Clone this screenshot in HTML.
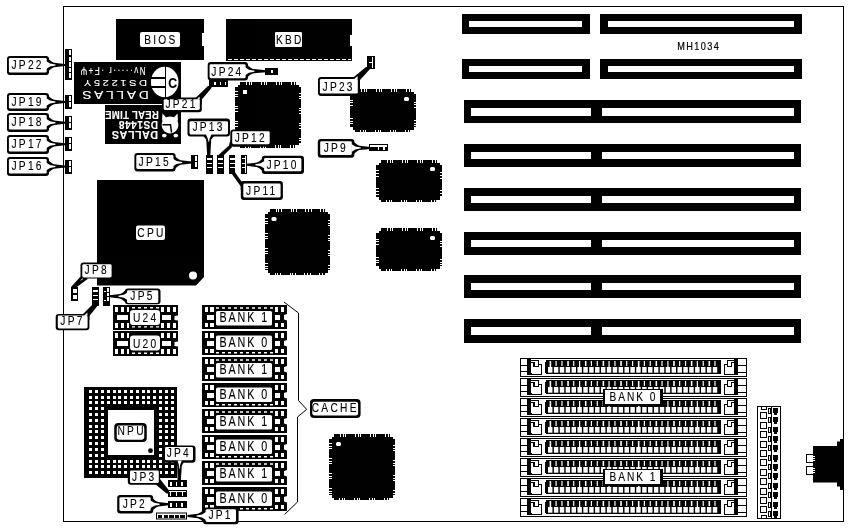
<!DOCTYPE html>
<html><head><meta charset="utf-8"><title>MH1034</title>
<style>
html,body{margin:0;padding:0;background:#fff;}
svg{display:block;font-family:"Liberation Sans",sans-serif;}
.c{shape-rendering:crispEdges;}
svg{will-change:transform;opacity:0.9999;}
</style></head>
<body>
<svg width="849" height="532" viewBox="0 0 849 532">
<rect x="0" y="0" width="849" height="532" fill="#fff"/>
<rect x="63.5" y="6.5" width="780" height="515" fill="#fff" stroke="#000" stroke-width="1"/>
<rect x="462" y="14" width="128" height="20" fill="#000" class="c"/>
<rect x="469" y="21" width="113" height="6" fill="#fff" class="c"/>
<rect x="600" y="14" width="202" height="20" fill="#000" class="c"/>
<rect x="608" y="21" width="186" height="6" fill="#fff" class="c"/>
<rect x="462" y="59" width="128" height="20" fill="#000" class="c"/>
<rect x="469" y="66" width="113" height="6" fill="#fff" class="c"/>
<rect x="600" y="59" width="202" height="20" fill="#000" class="c"/>
<rect x="608" y="66" width="186" height="6" fill="#fff" class="c"/>
<rect x="464" y="100" width="337" height="23" fill="#000" class="c"/>
<rect x="471" y="108" width="120" height="8" fill="#fff" class="c"/>
<rect x="602" y="108" width="192" height="8" fill="#fff" class="c"/>
<rect x="464" y="144" width="337" height="23" fill="#000" class="c"/>
<rect x="471" y="152" width="120" height="7" fill="#fff" class="c"/>
<rect x="602" y="152" width="192" height="7" fill="#fff" class="c"/>
<rect x="464" y="188" width="337" height="23" fill="#000" class="c"/>
<rect x="471" y="196" width="120" height="7" fill="#fff" class="c"/>
<rect x="602" y="196" width="192" height="7" fill="#fff" class="c"/>
<rect x="464" y="232" width="337" height="23" fill="#000" class="c"/>
<rect x="471" y="240" width="120" height="7" fill="#fff" class="c"/>
<rect x="602" y="240" width="192" height="7" fill="#fff" class="c"/>
<rect x="464" y="275" width="337" height="23" fill="#000" class="c"/>
<rect x="471" y="283" width="120" height="7" fill="#fff" class="c"/>
<rect x="602" y="283" width="192" height="7" fill="#fff" class="c"/>
<rect x="464" y="319" width="337" height="24" fill="#000" class="c"/>
<rect x="471" y="327" width="120" height="8" fill="#fff" class="c"/>
<rect x="602" y="327" width="192" height="8" fill="#fff" class="c"/>
<text transform="translate(698,50.3) scale(0.92,1)" x="0.75" y="0" text-anchor="middle" font-size="10" letter-spacing="1.5" fill="#000" stroke="#000" stroke-width="0.2" font-weight="normal">MH1034</text>
<polygon points="116,19 204,19 204,33 202,33 202,46 204,46 204,60 116,60" fill="#000" />
<rect x="140" y="32" width="40" height="15" rx="2" fill="#fff"/>
<text transform="translate(159.7,43.7) scale(0.75,1)" x="1.5" y="0" text-anchor="middle" font-size="13.6" letter-spacing="3.0" fill="#000" stroke="#000" stroke-width="0.12" font-weight="normal">BIOS</text>
<polygon points="226,19 352,19 352,35 350,35 350,46 352,46 352,61 226,61" fill="#000" />
<line x1="228" y1="59.5" x2="351" y2="59.5" stroke="#fff" stroke-width="1" stroke-dasharray="4,2"/>
<rect x="275" y="32" width="27" height="15" rx="1" fill="#fff"/>
<text transform="translate(288.7,43.7) scale(0.75,1)" x="1.5" y="0" text-anchor="middle" font-size="13.6" letter-spacing="3.0" fill="#000" stroke="#000" stroke-width="0.12" font-weight="normal">KBD</text>
<rect x="74" y="62" width="107" height="41.5" fill="#000" class="c"/>
<text transform="translate(115.5,90.6) rotate(180) scale(1.22,1)" x="1.15" y="0" text-anchor="middle" font-size="11.2" letter-spacing="2.3" fill="#fff" stroke="#fff" stroke-width="0.12" font-weight="normal">DALLAS</text>
<text transform="translate(115.5,80) rotate(180) scale(1.12,1)" x="1.2" y="0" text-anchor="middle" font-size="9.8" letter-spacing="2.4" fill="#fff" stroke="#fff" stroke-width="0.12" font-weight="normal">DS1225Y</text>
<text transform="translate(113,67.3) rotate(180) scale(0.8,1)" x="0.95" y="0" text-anchor="middle" font-size="10" letter-spacing="1.9" fill="#fff" stroke="#fff" stroke-width="0.12" font-weight="normal">Nv·····r ·F+Ψ</text>
<ellipse cx="164.7" cy="82" rx="13.8" ry="15.2" fill="#fff"/>
<rect x="150" y="77" width="15" height="1.6" fill="#000" class="c"/>
<rect x="150" y="85.8" width="15" height="1.8" fill="#000" class="c"/>
<rect x="164.5" y="66" width="1.7" height="32" fill="#000" class="c"/>
<text transform="translate(172.6,88) scale(0.82,1)" x="0.0" y="0" text-anchor="middle" font-size="15" letter-spacing="0" fill="#000" stroke="#000" stroke-width="0.12" font-weight="bold">C</text>
<rect x="105" y="105" width="76" height="38.7" fill="#000" class="c"/>
<text transform="translate(135,131.2) rotate(180) scale(0.93,1)" x="0.3" y="0" text-anchor="middle" font-size="11.5" letter-spacing="0.6" fill="#fff" stroke="#fff" stroke-width="0.12" font-weight="bold">DALLAS</text>
<text transform="translate(138.5,120.5) rotate(180) scale(0.9,1)" x="0.3" y="0" text-anchor="middle" font-size="11.2" letter-spacing="0.6" fill="#fff" stroke="#fff" stroke-width="0.12" font-weight="bold">DS1448</text>
<text transform="translate(132,110.5) rotate(180) scale(0.92,1)" x="0.15" y="0" text-anchor="middle" font-size="10.4" letter-spacing="0.3" fill="#fff" stroke="#fff" stroke-width="0.12" font-weight="bold">REAL TIME</text>
<circle cx="170" cy="125" r="8.4" fill="#fff"/>
<polygon points="162.5,113.5 167,118.5 162,121" fill="#fff" />
<polygon points="177.5,113.5 173,118.5 178,121" fill="#fff" />
<ellipse cx="164.3" cy="135.6" rx="2.3" ry="1.9" fill="#fff"/>
<ellipse cx="175.8" cy="135.6" rx="2.3" ry="1.9" fill="#fff"/>
<polyline points="162.5,124.8 170.5,124.8 171.5,132.5" fill="none" stroke="#000" stroke-width="1.5" />
<polygon points="240,82 296,82 296,84.5 298.5,84.5 298.5,87 301,87 301,142.5 298.5,142.5 298.5,145.0 296,145.0 296,147.5 240,147.5 240,145.0 237.5,145.0 237.5,142.5 235,142.5 235,87 237.5,87 237.5,84.5 240,84.5" fill="#000" class="c"/>
<rect x="246" y="82" width="1" height="2.5" fill="#fff" class="c"/>
<rect x="245" y="145" width="1" height="2.5" fill="#fff" class="c"/>
<rect x="248.5" y="82" width="1" height="2.5" fill="#fff" class="c"/>
<rect x="247.5" y="145" width="1" height="2.5" fill="#fff" class="c"/>
<rect x="251" y="82" width="1" height="2.5" fill="#fff" class="c"/>
<rect x="250" y="145" width="1" height="2.5" fill="#fff" class="c"/>
<rect x="261" y="82" width="1" height="2.5" fill="#fff" class="c"/>
<rect x="260" y="145" width="1" height="2.5" fill="#fff" class="c"/>
<rect x="263.5" y="82" width="1" height="2.5" fill="#fff" class="c"/>
<rect x="262.5" y="145" width="1" height="2.5" fill="#fff" class="c"/>
<rect x="266" y="82" width="1" height="2.5" fill="#fff" class="c"/>
<rect x="265" y="145" width="1" height="2.5" fill="#fff" class="c"/>
<rect x="276" y="82" width="1" height="2.5" fill="#fff" class="c"/>
<rect x="275" y="145" width="1" height="2.5" fill="#fff" class="c"/>
<rect x="278.5" y="82" width="1" height="2.5" fill="#fff" class="c"/>
<rect x="277.5" y="145" width="1" height="2.5" fill="#fff" class="c"/>
<rect x="281" y="82" width="1" height="2.5" fill="#fff" class="c"/>
<rect x="280" y="145" width="1" height="2.5" fill="#fff" class="c"/>
<rect x="291" y="82" width="1" height="2.5" fill="#fff" class="c"/>
<rect x="290" y="145" width="1" height="2.5" fill="#fff" class="c"/>
<rect x="293.5" y="82" width="1" height="2.5" fill="#fff" class="c"/>
<rect x="292.5" y="145" width="1" height="2.5" fill="#fff" class="c"/>
<rect x="296" y="82" width="1" height="2.5" fill="#fff" class="c"/>
<rect x="295" y="145" width="1" height="2.5" fill="#fff" class="c"/>
<rect x="235" y="90.5" width="2.5" height="1" fill="#fff" class="c"/>
<rect x="298.5" y="92.5" width="2.5" height="1" fill="#fff" class="c"/>
<rect x="235" y="93.5" width="2.5" height="1" fill="#fff" class="c"/>
<rect x="298.5" y="95.5" width="2.5" height="1" fill="#fff" class="c"/>
<rect x="235" y="96" width="2.5" height="1" fill="#fff" class="c"/>
<rect x="298.5" y="98" width="2.5" height="1" fill="#fff" class="c"/>
<rect x="235" y="105.5" width="2.5" height="1" fill="#fff" class="c"/>
<rect x="298.5" y="107.5" width="2.5" height="1" fill="#fff" class="c"/>
<rect x="235" y="108" width="2.5" height="1" fill="#fff" class="c"/>
<rect x="298.5" y="110" width="2.5" height="1" fill="#fff" class="c"/>
<rect x="235" y="111" width="2.5" height="1" fill="#fff" class="c"/>
<rect x="298.5" y="113" width="2.5" height="1" fill="#fff" class="c"/>
<rect x="235" y="120.5" width="2.5" height="1" fill="#fff" class="c"/>
<rect x="298.5" y="122.5" width="2.5" height="1" fill="#fff" class="c"/>
<rect x="235" y="123" width="2.5" height="1" fill="#fff" class="c"/>
<rect x="298.5" y="125" width="2.5" height="1" fill="#fff" class="c"/>
<rect x="235" y="125.5" width="2.5" height="1" fill="#fff" class="c"/>
<rect x="298.5" y="127.5" width="2.5" height="1" fill="#fff" class="c"/>
<rect x="235" y="135.5" width="2.5" height="1" fill="#fff" class="c"/>
<rect x="298.5" y="137.5" width="2.5" height="1" fill="#fff" class="c"/>
<rect x="235" y="138" width="2.5" height="1" fill="#fff" class="c"/>
<rect x="298.5" y="140" width="2.5" height="1" fill="#fff" class="c"/>
<rect x="243" y="90" width="4" height="4" fill="#fff" class="c"/>
<polygon points="355,89 411,89 411,91.5 413.5,91.5 413.5,94 416,94 416,127 413.5,127 413.5,129.5 411,129.5 411,132 355,132 355,129.5 352.5,129.5 352.5,127 350,127 350,94 352.5,94 352.5,91.5 355,91.5" fill="#000" class="c"/>
<rect x="361" y="89" width="1" height="2.5" fill="#fff" class="c"/>
<rect x="360" y="129.5" width="1" height="2.5" fill="#fff" class="c"/>
<rect x="363.5" y="89" width="1" height="2.5" fill="#fff" class="c"/>
<rect x="362.5" y="129.5" width="1" height="2.5" fill="#fff" class="c"/>
<rect x="366" y="89" width="1" height="2.5" fill="#fff" class="c"/>
<rect x="365" y="129.5" width="1" height="2.5" fill="#fff" class="c"/>
<rect x="376" y="89" width="1" height="2.5" fill="#fff" class="c"/>
<rect x="375" y="129.5" width="1" height="2.5" fill="#fff" class="c"/>
<rect x="378.5" y="89" width="1" height="2.5" fill="#fff" class="c"/>
<rect x="377.5" y="129.5" width="1" height="2.5" fill="#fff" class="c"/>
<rect x="381" y="89" width="1" height="2.5" fill="#fff" class="c"/>
<rect x="380" y="129.5" width="1" height="2.5" fill="#fff" class="c"/>
<rect x="391" y="89" width="1" height="2.5" fill="#fff" class="c"/>
<rect x="390" y="129.5" width="1" height="2.5" fill="#fff" class="c"/>
<rect x="393.5" y="89" width="1" height="2.5" fill="#fff" class="c"/>
<rect x="392.5" y="129.5" width="1" height="2.5" fill="#fff" class="c"/>
<rect x="396" y="89" width="1" height="2.5" fill="#fff" class="c"/>
<rect x="395" y="129.5" width="1" height="2.5" fill="#fff" class="c"/>
<rect x="406" y="89" width="1" height="2.5" fill="#fff" class="c"/>
<rect x="405" y="129.5" width="1" height="2.5" fill="#fff" class="c"/>
<rect x="408.5" y="89" width="1" height="2.5" fill="#fff" class="c"/>
<rect x="407.5" y="129.5" width="1" height="2.5" fill="#fff" class="c"/>
<rect x="411" y="89" width="1" height="2.5" fill="#fff" class="c"/>
<rect x="410" y="129.5" width="1" height="2.5" fill="#fff" class="c"/>
<rect x="350" y="99.5" width="2.5" height="1" fill="#fff" class="c"/>
<rect x="413.5" y="101.5" width="2.5" height="1" fill="#fff" class="c"/>
<rect x="350" y="102" width="2.5" height="1" fill="#fff" class="c"/>
<rect x="413.5" y="104" width="2.5" height="1" fill="#fff" class="c"/>
<rect x="350" y="104.5" width="2.5" height="1" fill="#fff" class="c"/>
<rect x="413.5" y="106.5" width="2.5" height="1" fill="#fff" class="c"/>
<rect x="350" y="118" width="2.5" height="1" fill="#fff" class="c"/>
<rect x="413.5" y="120" width="2.5" height="1" fill="#fff" class="c"/>
<rect x="350" y="120.5" width="2.5" height="1" fill="#fff" class="c"/>
<rect x="413.5" y="122.5" width="2.5" height="1" fill="#fff" class="c"/>
<rect x="350" y="123" width="2.5" height="1" fill="#fff" class="c"/>
<rect x="413.5" y="125" width="2.5" height="1" fill="#fff" class="c"/>
<rect x="404" y="97" width="5" height="4" rx="1.5" fill="#fff"/>
<polygon points="381,160 437,160 437,162.5 439.5,162.5 439.5,165 442,165 442,197 439.5,197 439.5,199.5 437,199.5 437,202 381,202 381,199.5 378.5,199.5 378.5,197 376,197 376,165 378.5,165 378.5,162.5 381,162.5" fill="#000" class="c"/>
<rect x="387" y="160" width="1" height="2.5" fill="#fff" class="c"/>
<rect x="386" y="199.5" width="1" height="2.5" fill="#fff" class="c"/>
<rect x="389.5" y="160" width="1" height="2.5" fill="#fff" class="c"/>
<rect x="388.5" y="199.5" width="1" height="2.5" fill="#fff" class="c"/>
<rect x="392" y="160" width="1" height="2.5" fill="#fff" class="c"/>
<rect x="391" y="199.5" width="1" height="2.5" fill="#fff" class="c"/>
<rect x="402" y="160" width="1" height="2.5" fill="#fff" class="c"/>
<rect x="401" y="199.5" width="1" height="2.5" fill="#fff" class="c"/>
<rect x="404.5" y="160" width="1" height="2.5" fill="#fff" class="c"/>
<rect x="403.5" y="199.5" width="1" height="2.5" fill="#fff" class="c"/>
<rect x="407" y="160" width="1" height="2.5" fill="#fff" class="c"/>
<rect x="406" y="199.5" width="1" height="2.5" fill="#fff" class="c"/>
<rect x="417" y="160" width="1" height="2.5" fill="#fff" class="c"/>
<rect x="416" y="199.5" width="1" height="2.5" fill="#fff" class="c"/>
<rect x="419.5" y="160" width="1" height="2.5" fill="#fff" class="c"/>
<rect x="418.5" y="199.5" width="1" height="2.5" fill="#fff" class="c"/>
<rect x="422" y="160" width="1" height="2.5" fill="#fff" class="c"/>
<rect x="421" y="199.5" width="1" height="2.5" fill="#fff" class="c"/>
<rect x="432" y="160" width="1" height="2.5" fill="#fff" class="c"/>
<rect x="431" y="199.5" width="1" height="2.5" fill="#fff" class="c"/>
<rect x="434.5" y="160" width="1" height="2.5" fill="#fff" class="c"/>
<rect x="433.5" y="199.5" width="1" height="2.5" fill="#fff" class="c"/>
<rect x="437" y="160" width="1" height="2.5" fill="#fff" class="c"/>
<rect x="436" y="199.5" width="1" height="2.5" fill="#fff" class="c"/>
<rect x="376" y="170" width="2.5" height="1" fill="#fff" class="c"/>
<rect x="439.5" y="172" width="2.5" height="1" fill="#fff" class="c"/>
<rect x="376" y="172.5" width="2.5" height="1" fill="#fff" class="c"/>
<rect x="439.5" y="174.5" width="2.5" height="1" fill="#fff" class="c"/>
<rect x="376" y="175.5" width="2.5" height="1" fill="#fff" class="c"/>
<rect x="439.5" y="177.5" width="2.5" height="1" fill="#fff" class="c"/>
<rect x="376" y="188" width="2.5" height="1" fill="#fff" class="c"/>
<rect x="439.5" y="190" width="2.5" height="1" fill="#fff" class="c"/>
<rect x="376" y="190.5" width="2.5" height="1" fill="#fff" class="c"/>
<rect x="439.5" y="192.5" width="2.5" height="1" fill="#fff" class="c"/>
<rect x="376" y="193.5" width="2.5" height="1" fill="#fff" class="c"/>
<rect x="439.5" y="195.5" width="2.5" height="1" fill="#fff" class="c"/>
<rect x="430" y="167" width="5" height="4" rx="1.5" fill="#fff"/>
<polygon points="381,228 437,228 437,230.5 439.5,230.5 439.5,233 442,233 442,266 439.5,266 439.5,268.5 437,268.5 437,271 381,271 381,268.5 378.5,268.5 378.5,266 376,266 376,233 378.5,233 378.5,230.5 381,230.5" fill="#000" class="c"/>
<rect x="387" y="228" width="1" height="2.5" fill="#fff" class="c"/>
<rect x="386" y="268.5" width="1" height="2.5" fill="#fff" class="c"/>
<rect x="389.5" y="228" width="1" height="2.5" fill="#fff" class="c"/>
<rect x="388.5" y="268.5" width="1" height="2.5" fill="#fff" class="c"/>
<rect x="392" y="228" width="1" height="2.5" fill="#fff" class="c"/>
<rect x="391" y="268.5" width="1" height="2.5" fill="#fff" class="c"/>
<rect x="402" y="228" width="1" height="2.5" fill="#fff" class="c"/>
<rect x="401" y="268.5" width="1" height="2.5" fill="#fff" class="c"/>
<rect x="404.5" y="228" width="1" height="2.5" fill="#fff" class="c"/>
<rect x="403.5" y="268.5" width="1" height="2.5" fill="#fff" class="c"/>
<rect x="407" y="228" width="1" height="2.5" fill="#fff" class="c"/>
<rect x="406" y="268.5" width="1" height="2.5" fill="#fff" class="c"/>
<rect x="417" y="228" width="1" height="2.5" fill="#fff" class="c"/>
<rect x="416" y="268.5" width="1" height="2.5" fill="#fff" class="c"/>
<rect x="419.5" y="228" width="1" height="2.5" fill="#fff" class="c"/>
<rect x="418.5" y="268.5" width="1" height="2.5" fill="#fff" class="c"/>
<rect x="422" y="228" width="1" height="2.5" fill="#fff" class="c"/>
<rect x="421" y="268.5" width="1" height="2.5" fill="#fff" class="c"/>
<rect x="432" y="228" width="1" height="2.5" fill="#fff" class="c"/>
<rect x="431" y="268.5" width="1" height="2.5" fill="#fff" class="c"/>
<rect x="434.5" y="228" width="1" height="2.5" fill="#fff" class="c"/>
<rect x="433.5" y="268.5" width="1" height="2.5" fill="#fff" class="c"/>
<rect x="437" y="228" width="1" height="2.5" fill="#fff" class="c"/>
<rect x="436" y="268.5" width="1" height="2.5" fill="#fff" class="c"/>
<rect x="376" y="238.5" width="2.5" height="1" fill="#fff" class="c"/>
<rect x="439.5" y="240.5" width="2.5" height="1" fill="#fff" class="c"/>
<rect x="376" y="241" width="2.5" height="1" fill="#fff" class="c"/>
<rect x="439.5" y="243" width="2.5" height="1" fill="#fff" class="c"/>
<rect x="376" y="243.5" width="2.5" height="1" fill="#fff" class="c"/>
<rect x="439.5" y="245.5" width="2.5" height="1" fill="#fff" class="c"/>
<rect x="376" y="257" width="2.5" height="1" fill="#fff" class="c"/>
<rect x="439.5" y="259" width="2.5" height="1" fill="#fff" class="c"/>
<rect x="376" y="259.5" width="2.5" height="1" fill="#fff" class="c"/>
<rect x="439.5" y="261.5" width="2.5" height="1" fill="#fff" class="c"/>
<rect x="376" y="262" width="2.5" height="1" fill="#fff" class="c"/>
<rect x="439.5" y="264" width="2.5" height="1" fill="#fff" class="c"/>
<rect x="430" y="236" width="5" height="4" rx="1.5" fill="#fff"/>
<polygon points="270,209 325,209 325,211.5 327.5,211.5 327.5,214 330,214 330,270 327.5,270 327.5,272.5 325,272.5 325,275 270,275 270,272.5 267.5,272.5 267.5,270 265,270 265,214 267.5,214 267.5,211.5 270,211.5" fill="#000" class="c"/>
<rect x="275.5" y="209" width="1" height="2.5" fill="#fff" class="c"/>
<rect x="274.5" y="272.5" width="1" height="2.5" fill="#fff" class="c"/>
<rect x="278" y="209" width="1" height="2.5" fill="#fff" class="c"/>
<rect x="277" y="272.5" width="1" height="2.5" fill="#fff" class="c"/>
<rect x="281" y="209" width="1" height="2.5" fill="#fff" class="c"/>
<rect x="280" y="272.5" width="1" height="2.5" fill="#fff" class="c"/>
<rect x="290.5" y="209" width="1" height="2.5" fill="#fff" class="c"/>
<rect x="289.5" y="272.5" width="1" height="2.5" fill="#fff" class="c"/>
<rect x="293" y="209" width="1" height="2.5" fill="#fff" class="c"/>
<rect x="292" y="272.5" width="1" height="2.5" fill="#fff" class="c"/>
<rect x="295.5" y="209" width="1" height="2.5" fill="#fff" class="c"/>
<rect x="294.5" y="272.5" width="1" height="2.5" fill="#fff" class="c"/>
<rect x="305" y="209" width="1" height="2.5" fill="#fff" class="c"/>
<rect x="304" y="272.5" width="1" height="2.5" fill="#fff" class="c"/>
<rect x="307.5" y="209" width="1" height="2.5" fill="#fff" class="c"/>
<rect x="306.5" y="272.5" width="1" height="2.5" fill="#fff" class="c"/>
<rect x="310.5" y="209" width="1" height="2.5" fill="#fff" class="c"/>
<rect x="309.5" y="272.5" width="1" height="2.5" fill="#fff" class="c"/>
<rect x="320" y="209" width="1" height="2.5" fill="#fff" class="c"/>
<rect x="319" y="272.5" width="1" height="2.5" fill="#fff" class="c"/>
<rect x="322.5" y="209" width="1" height="2.5" fill="#fff" class="c"/>
<rect x="321.5" y="272.5" width="1" height="2.5" fill="#fff" class="c"/>
<rect x="265" y="218" width="2.5" height="1" fill="#fff" class="c"/>
<rect x="327.5" y="220" width="2.5" height="1" fill="#fff" class="c"/>
<rect x="265" y="220.5" width="2.5" height="1" fill="#fff" class="c"/>
<rect x="327.5" y="222.5" width="2.5" height="1" fill="#fff" class="c"/>
<rect x="265" y="223" width="2.5" height="1" fill="#fff" class="c"/>
<rect x="327.5" y="225" width="2.5" height="1" fill="#fff" class="c"/>
<rect x="265" y="233" width="2.5" height="1" fill="#fff" class="c"/>
<rect x="327.5" y="235" width="2.5" height="1" fill="#fff" class="c"/>
<rect x="265" y="235.5" width="2.5" height="1" fill="#fff" class="c"/>
<rect x="327.5" y="237.5" width="2.5" height="1" fill="#fff" class="c"/>
<rect x="265" y="238" width="2.5" height="1" fill="#fff" class="c"/>
<rect x="327.5" y="240" width="2.5" height="1" fill="#fff" class="c"/>
<rect x="265" y="248" width="2.5" height="1" fill="#fff" class="c"/>
<rect x="327.5" y="250" width="2.5" height="1" fill="#fff" class="c"/>
<rect x="265" y="250.5" width="2.5" height="1" fill="#fff" class="c"/>
<rect x="327.5" y="252.5" width="2.5" height="1" fill="#fff" class="c"/>
<rect x="265" y="253" width="2.5" height="1" fill="#fff" class="c"/>
<rect x="327.5" y="255" width="2.5" height="1" fill="#fff" class="c"/>
<rect x="265" y="263" width="2.5" height="1" fill="#fff" class="c"/>
<rect x="327.5" y="265" width="2.5" height="1" fill="#fff" class="c"/>
<rect x="265" y="265.5" width="2.5" height="1" fill="#fff" class="c"/>
<rect x="327.5" y="267.5" width="2.5" height="1" fill="#fff" class="c"/>
<rect x="265" y="268" width="2.5" height="1" fill="#fff" class="c"/>
<rect x="327.5" y="270" width="2.5" height="1" fill="#fff" class="c"/>
<rect x="271.5" y="217" width="5" height="4" rx="1.5" fill="#fff"/>
<polygon points="334,434 390,434 390,436.5 392.5,436.5 392.5,439 395,439 395,495 392.5,495 392.5,497.5 390,497.5 390,500 334,500 334,497.5 331.5,497.5 331.5,495 329,495 329,439 331.5,439 331.5,436.5 334,436.5" fill="#000" class="c"/>
<rect x="340" y="434" width="1" height="2.5" fill="#fff" class="c"/>
<rect x="339" y="497.5" width="1" height="2.5" fill="#fff" class="c"/>
<rect x="342.5" y="434" width="1" height="2.5" fill="#fff" class="c"/>
<rect x="341.5" y="497.5" width="1" height="2.5" fill="#fff" class="c"/>
<rect x="345" y="434" width="1" height="2.5" fill="#fff" class="c"/>
<rect x="344" y="497.5" width="1" height="2.5" fill="#fff" class="c"/>
<rect x="355" y="434" width="1" height="2.5" fill="#fff" class="c"/>
<rect x="354" y="497.5" width="1" height="2.5" fill="#fff" class="c"/>
<rect x="357.5" y="434" width="1" height="2.5" fill="#fff" class="c"/>
<rect x="356.5" y="497.5" width="1" height="2.5" fill="#fff" class="c"/>
<rect x="360" y="434" width="1" height="2.5" fill="#fff" class="c"/>
<rect x="359" y="497.5" width="1" height="2.5" fill="#fff" class="c"/>
<rect x="370" y="434" width="1" height="2.5" fill="#fff" class="c"/>
<rect x="369" y="497.5" width="1" height="2.5" fill="#fff" class="c"/>
<rect x="372.5" y="434" width="1" height="2.5" fill="#fff" class="c"/>
<rect x="371.5" y="497.5" width="1" height="2.5" fill="#fff" class="c"/>
<rect x="375" y="434" width="1" height="2.5" fill="#fff" class="c"/>
<rect x="374" y="497.5" width="1" height="2.5" fill="#fff" class="c"/>
<rect x="385" y="434" width="1" height="2.5" fill="#fff" class="c"/>
<rect x="384" y="497.5" width="1" height="2.5" fill="#fff" class="c"/>
<rect x="387.5" y="434" width="1" height="2.5" fill="#fff" class="c"/>
<rect x="386.5" y="497.5" width="1" height="2.5" fill="#fff" class="c"/>
<rect x="390" y="434" width="1" height="2.5" fill="#fff" class="c"/>
<rect x="389" y="497.5" width="1" height="2.5" fill="#fff" class="c"/>
<rect x="329" y="443" width="2.5" height="1" fill="#fff" class="c"/>
<rect x="392.5" y="445" width="2.5" height="1" fill="#fff" class="c"/>
<rect x="329" y="445.5" width="2.5" height="1" fill="#fff" class="c"/>
<rect x="392.5" y="447.5" width="2.5" height="1" fill="#fff" class="c"/>
<rect x="329" y="448" width="2.5" height="1" fill="#fff" class="c"/>
<rect x="392.5" y="450" width="2.5" height="1" fill="#fff" class="c"/>
<rect x="329" y="458" width="2.5" height="1" fill="#fff" class="c"/>
<rect x="392.5" y="460" width="2.5" height="1" fill="#fff" class="c"/>
<rect x="329" y="460.5" width="2.5" height="1" fill="#fff" class="c"/>
<rect x="392.5" y="462.5" width="2.5" height="1" fill="#fff" class="c"/>
<rect x="329" y="463" width="2.5" height="1" fill="#fff" class="c"/>
<rect x="392.5" y="465" width="2.5" height="1" fill="#fff" class="c"/>
<rect x="329" y="473" width="2.5" height="1" fill="#fff" class="c"/>
<rect x="392.5" y="475" width="2.5" height="1" fill="#fff" class="c"/>
<rect x="329" y="475.5" width="2.5" height="1" fill="#fff" class="c"/>
<rect x="392.5" y="477.5" width="2.5" height="1" fill="#fff" class="c"/>
<rect x="329" y="478" width="2.5" height="1" fill="#fff" class="c"/>
<rect x="392.5" y="480" width="2.5" height="1" fill="#fff" class="c"/>
<rect x="329" y="488" width="2.5" height="1" fill="#fff" class="c"/>
<rect x="392.5" y="490" width="2.5" height="1" fill="#fff" class="c"/>
<rect x="329" y="490.5" width="2.5" height="1" fill="#fff" class="c"/>
<rect x="392.5" y="492.5" width="2.5" height="1" fill="#fff" class="c"/>
<rect x="329" y="493" width="2.5" height="1" fill="#fff" class="c"/>
<rect x="392.5" y="495" width="2.5" height="1" fill="#fff" class="c"/>
<rect x="336" y="442" width="5" height="4" rx="1.5" fill="#fff"/>
<polygon points="97,180 204,180 204,277 196,285.5 97,285.5" fill="#000" />
<circle cx="193" cy="275.5" r="4" fill="#fff"/>
<rect x="136" y="225.5" width="29" height="14.5" rx="2" fill="#fff"/>
<text transform="translate(150.3,237) scale(0.75,1)" x="1.5" y="0" text-anchor="middle" font-size="13.6" letter-spacing="3.0" fill="#000" stroke="#000" stroke-width="0.12" font-weight="normal">CPU</text>
<rect x="113" y="305" width="65" height="24.7" fill="#000" class="c"/>
<rect x="115" y="307" width="3" height="5" fill="#fff" class="c"/>
<rect x="115" y="322.7" width="3" height="5" fill="#fff" class="c"/>
<rect x="121" y="307" width="3" height="5" fill="#fff" class="c"/>
<rect x="121" y="322.7" width="3" height="5" fill="#fff" class="c"/>
<rect x="127" y="307" width="1.5" height="5" fill="#fff" class="c"/>
<rect x="127" y="322.7" width="1.5" height="5" fill="#fff" class="c"/>
<rect x="117" y="315" width="11" height="5" fill="#fff" class="c"/>
<rect x="161" y="307" width="3" height="5" fill="#fff" class="c"/>
<rect x="161" y="322.7" width="3" height="5" fill="#fff" class="c"/>
<rect x="167" y="307" width="3" height="5" fill="#fff" class="c"/>
<rect x="167" y="322.7" width="3" height="5" fill="#fff" class="c"/>
<rect x="173" y="307" width="3" height="5" fill="#fff" class="c"/>
<rect x="173" y="322.7" width="3" height="5" fill="#fff" class="c"/>
<rect x="162" y="315" width="9" height="5" fill="#fff" class="c"/>
<polygon points="174.5,316 178,315.5 178,320.5 174.5,320" fill="#fff" />
<line x1="132" y1="307.8" x2="159" y2="307.8" stroke="#fff" stroke-width="1.4" stroke-dasharray="3,3"/>
<line x1="132" y1="326.9" x2="159" y2="326.9" stroke="#fff" stroke-width="1.4" stroke-dasharray="3,3"/>
<rect x="130" y="310" width="30" height="15" rx="3" fill="#fff"/>
<text transform="translate(144.5,322.2) scale(0.75,1)" x="1.5" y="0" text-anchor="middle" font-size="13.6" letter-spacing="3.0" fill="#000" stroke="#000" stroke-width="0.12" font-weight="normal">U24</text>
<rect x="113" y="331" width="65" height="25" fill="#000" class="c"/>
<rect x="115" y="333" width="3" height="5" fill="#fff" class="c"/>
<rect x="115" y="349" width="3" height="5" fill="#fff" class="c"/>
<rect x="121" y="333" width="3" height="5" fill="#fff" class="c"/>
<rect x="121" y="349" width="3" height="5" fill="#fff" class="c"/>
<rect x="127" y="333" width="1.5" height="5" fill="#fff" class="c"/>
<rect x="127" y="349" width="1.5" height="5" fill="#fff" class="c"/>
<rect x="117" y="341" width="11" height="5" fill="#fff" class="c"/>
<rect x="161" y="333" width="3" height="5" fill="#fff" class="c"/>
<rect x="161" y="349" width="3" height="5" fill="#fff" class="c"/>
<rect x="167" y="333" width="3" height="5" fill="#fff" class="c"/>
<rect x="167" y="349" width="3" height="5" fill="#fff" class="c"/>
<rect x="173" y="333" width="3" height="5" fill="#fff" class="c"/>
<rect x="173" y="349" width="3" height="5" fill="#fff" class="c"/>
<rect x="162" y="341" width="9" height="5" fill="#fff" class="c"/>
<polygon points="174.5,342 178,341.5 178,346.5 174.5,346" fill="#fff" />
<line x1="132" y1="353.2" x2="159" y2="353.2" stroke="#fff" stroke-width="1.4" stroke-dasharray="3,3"/>
<rect x="130" y="335.6" width="30" height="15" rx="3" fill="#fff"/>
<text transform="translate(144.5,347.8) scale(0.75,1)" x="1.5" y="0" text-anchor="middle" font-size="13.6" letter-spacing="3.0" fill="#000" stroke="#000" stroke-width="0.12" font-weight="normal">U20</text>
<rect x="202" y="305" width="85" height="24" fill="#000" class="c"/>
<rect x="205" y="307" width="3" height="4.5" fill="#fff" class="c"/>
<rect x="205" y="322.5" width="3" height="4.5" fill="#fff" class="c"/>
<rect x="210" y="307" width="4" height="4.5" fill="#fff" class="c"/>
<rect x="210" y="322.5" width="4" height="4.5" fill="#fff" class="c"/>
<rect x="207" y="315" width="7" height="5" fill="#fff" class="c"/>
<rect x="275" y="307" width="3" height="4.5" fill="#fff" class="c"/>
<rect x="275" y="322.5" width="3" height="4.5" fill="#fff" class="c"/>
<rect x="281" y="307" width="3" height="4.5" fill="#fff" class="c"/>
<rect x="281" y="322.5" width="3" height="4.5" fill="#fff" class="c"/>
<rect x="275" y="315" width="5" height="5" fill="#fff" class="c"/>
<polygon points="284,315 287,314 287,320.5 284,319.5" fill="#fff" />
<line x1="216" y1="308" x2="273" y2="308" stroke="#fff" stroke-width="1.6" stroke-dasharray="3,3"/>
<rect x="216" y="311" width="56" height="14.4" rx="1.5" fill="#fff"/>
<text transform="translate(243.3,322.0) scale(0.75,1)" x="1.3" y="0" text-anchor="middle" font-size="14.3" letter-spacing="2.6" fill="#000" stroke="#000" stroke-width="0.12" font-weight="normal">BANK 1</text>
<rect x="202" y="331" width="85" height="24" fill="#000" class="c"/>
<rect x="205" y="333" width="3" height="4.5" fill="#fff" class="c"/>
<rect x="205" y="348.5" width="3" height="4.5" fill="#fff" class="c"/>
<rect x="210" y="333" width="4" height="4.5" fill="#fff" class="c"/>
<rect x="210" y="348.5" width="4" height="4.5" fill="#fff" class="c"/>
<rect x="207" y="341" width="7" height="5" fill="#fff" class="c"/>
<rect x="275" y="333" width="3" height="4.5" fill="#fff" class="c"/>
<rect x="275" y="348.5" width="3" height="4.5" fill="#fff" class="c"/>
<rect x="281" y="333" width="3" height="4.5" fill="#fff" class="c"/>
<rect x="281" y="348.5" width="3" height="4.5" fill="#fff" class="c"/>
<rect x="275" y="341" width="5" height="5" fill="#fff" class="c"/>
<polygon points="284,341 287,340 287,346.5 284,345.5" fill="#fff" />
<line x1="216" y1="352.8" x2="273" y2="352.8" stroke="#fff" stroke-width="1.4" stroke-dasharray="3,3"/>
<rect x="216" y="335.6" width="56" height="14.4" rx="1.5" fill="#fff"/>
<text transform="translate(243.3,346.6) scale(0.75,1)" x="1.3" y="0" text-anchor="middle" font-size="14.3" letter-spacing="2.6" fill="#000" stroke="#000" stroke-width="0.12" font-weight="normal">BANK 0</text>
<rect x="202" y="357" width="85" height="24" fill="#000" class="c"/>
<rect x="205" y="359" width="3" height="4.5" fill="#fff" class="c"/>
<rect x="205" y="374.5" width="3" height="4.5" fill="#fff" class="c"/>
<rect x="210" y="359" width="4" height="4.5" fill="#fff" class="c"/>
<rect x="210" y="374.5" width="4" height="4.5" fill="#fff" class="c"/>
<rect x="207" y="367" width="7" height="5" fill="#fff" class="c"/>
<rect x="275" y="359" width="3" height="4.5" fill="#fff" class="c"/>
<rect x="275" y="374.5" width="3" height="4.5" fill="#fff" class="c"/>
<rect x="281" y="359" width="3" height="4.5" fill="#fff" class="c"/>
<rect x="281" y="374.5" width="3" height="4.5" fill="#fff" class="c"/>
<rect x="275" y="367" width="5" height="5" fill="#fff" class="c"/>
<polygon points="284,367 287,366 287,372.5 284,371.5" fill="#fff" />
<line x1="216" y1="360" x2="273" y2="360" stroke="#fff" stroke-width="1.6" stroke-dasharray="3,3"/>
<rect x="216" y="363" width="56" height="14.4" rx="1.5" fill="#fff"/>
<text transform="translate(243.3,374.0) scale(0.75,1)" x="1.3" y="0" text-anchor="middle" font-size="14.3" letter-spacing="2.6" fill="#000" stroke="#000" stroke-width="0.12" font-weight="normal">BANK 1</text>
<rect x="202" y="383" width="85" height="24" fill="#000" class="c"/>
<rect x="205" y="385" width="3" height="4.5" fill="#fff" class="c"/>
<rect x="205" y="400.5" width="3" height="4.5" fill="#fff" class="c"/>
<rect x="210" y="385" width="4" height="4.5" fill="#fff" class="c"/>
<rect x="210" y="400.5" width="4" height="4.5" fill="#fff" class="c"/>
<rect x="207" y="393" width="7" height="5" fill="#fff" class="c"/>
<rect x="275" y="385" width="3" height="4.5" fill="#fff" class="c"/>
<rect x="275" y="400.5" width="3" height="4.5" fill="#fff" class="c"/>
<rect x="281" y="385" width="3" height="4.5" fill="#fff" class="c"/>
<rect x="281" y="400.5" width="3" height="4.5" fill="#fff" class="c"/>
<rect x="275" y="393" width="5" height="5" fill="#fff" class="c"/>
<polygon points="284,393 287,392 287,398.5 284,397.5" fill="#fff" />
<line x1="216" y1="404.8" x2="273" y2="404.8" stroke="#fff" stroke-width="1.4" stroke-dasharray="3,3"/>
<rect x="216" y="387.6" width="56" height="14.4" rx="1.5" fill="#fff"/>
<text transform="translate(243.3,398.6) scale(0.75,1)" x="1.3" y="0" text-anchor="middle" font-size="14.3" letter-spacing="2.6" fill="#000" stroke="#000" stroke-width="0.12" font-weight="normal">BANK 0</text>
<rect x="202" y="409" width="85" height="24" fill="#000" class="c"/>
<rect x="205" y="411" width="3" height="4.5" fill="#fff" class="c"/>
<rect x="205" y="426.5" width="3" height="4.5" fill="#fff" class="c"/>
<rect x="210" y="411" width="4" height="4.5" fill="#fff" class="c"/>
<rect x="210" y="426.5" width="4" height="4.5" fill="#fff" class="c"/>
<rect x="207" y="419" width="7" height="5" fill="#fff" class="c"/>
<rect x="275" y="411" width="3" height="4.5" fill="#fff" class="c"/>
<rect x="275" y="426.5" width="3" height="4.5" fill="#fff" class="c"/>
<rect x="281" y="411" width="3" height="4.5" fill="#fff" class="c"/>
<rect x="281" y="426.5" width="3" height="4.5" fill="#fff" class="c"/>
<rect x="275" y="419" width="5" height="5" fill="#fff" class="c"/>
<polygon points="284,419 287,418 287,424.5 284,423.5" fill="#fff" />
<line x1="216" y1="412" x2="273" y2="412" stroke="#fff" stroke-width="1.6" stroke-dasharray="3,3"/>
<rect x="216" y="415" width="56" height="14.4" rx="1.5" fill="#fff"/>
<text transform="translate(243.3,426.0) scale(0.75,1)" x="1.3" y="0" text-anchor="middle" font-size="14.3" letter-spacing="2.6" fill="#000" stroke="#000" stroke-width="0.12" font-weight="normal">BANK 1</text>
<rect x="202" y="435" width="85" height="24" fill="#000" class="c"/>
<rect x="205" y="437" width="3" height="4.5" fill="#fff" class="c"/>
<rect x="205" y="452.5" width="3" height="4.5" fill="#fff" class="c"/>
<rect x="210" y="437" width="4" height="4.5" fill="#fff" class="c"/>
<rect x="210" y="452.5" width="4" height="4.5" fill="#fff" class="c"/>
<rect x="207" y="445" width="7" height="5" fill="#fff" class="c"/>
<rect x="275" y="437" width="3" height="4.5" fill="#fff" class="c"/>
<rect x="275" y="452.5" width="3" height="4.5" fill="#fff" class="c"/>
<rect x="281" y="437" width="3" height="4.5" fill="#fff" class="c"/>
<rect x="281" y="452.5" width="3" height="4.5" fill="#fff" class="c"/>
<rect x="275" y="445" width="5" height="5" fill="#fff" class="c"/>
<polygon points="284,445 287,444 287,450.5 284,449.5" fill="#fff" />
<line x1="216" y1="456.8" x2="273" y2="456.8" stroke="#fff" stroke-width="1.4" stroke-dasharray="3,3"/>
<rect x="216" y="439.6" width="56" height="14.4" rx="1.5" fill="#fff"/>
<text transform="translate(243.3,450.6) scale(0.75,1)" x="1.3" y="0" text-anchor="middle" font-size="14.3" letter-spacing="2.6" fill="#000" stroke="#000" stroke-width="0.12" font-weight="normal">BANK 0</text>
<rect x="202" y="461" width="85" height="24" fill="#000" class="c"/>
<rect x="205" y="463" width="3" height="4.5" fill="#fff" class="c"/>
<rect x="205" y="478.5" width="3" height="4.5" fill="#fff" class="c"/>
<rect x="210" y="463" width="4" height="4.5" fill="#fff" class="c"/>
<rect x="210" y="478.5" width="4" height="4.5" fill="#fff" class="c"/>
<rect x="207" y="471" width="7" height="5" fill="#fff" class="c"/>
<rect x="275" y="463" width="3" height="4.5" fill="#fff" class="c"/>
<rect x="275" y="478.5" width="3" height="4.5" fill="#fff" class="c"/>
<rect x="281" y="463" width="3" height="4.5" fill="#fff" class="c"/>
<rect x="281" y="478.5" width="3" height="4.5" fill="#fff" class="c"/>
<rect x="275" y="471" width="5" height="5" fill="#fff" class="c"/>
<polygon points="284,471 287,470 287,476.5 284,475.5" fill="#fff" />
<line x1="216" y1="464" x2="273" y2="464" stroke="#fff" stroke-width="1.6" stroke-dasharray="3,3"/>
<rect x="216" y="467" width="56" height="14.4" rx="1.5" fill="#fff"/>
<text transform="translate(243.3,478.0) scale(0.75,1)" x="1.3" y="0" text-anchor="middle" font-size="14.3" letter-spacing="2.6" fill="#000" stroke="#000" stroke-width="0.12" font-weight="normal">BANK 1</text>
<rect x="202" y="487" width="85" height="24" fill="#000" class="c"/>
<rect x="205" y="489" width="3" height="4.5" fill="#fff" class="c"/>
<rect x="205" y="504.5" width="3" height="4.5" fill="#fff" class="c"/>
<rect x="210" y="489" width="4" height="4.5" fill="#fff" class="c"/>
<rect x="210" y="504.5" width="4" height="4.5" fill="#fff" class="c"/>
<rect x="207" y="497" width="7" height="5" fill="#fff" class="c"/>
<rect x="275" y="489" width="3" height="4.5" fill="#fff" class="c"/>
<rect x="275" y="504.5" width="3" height="4.5" fill="#fff" class="c"/>
<rect x="281" y="489" width="3" height="4.5" fill="#fff" class="c"/>
<rect x="281" y="504.5" width="3" height="4.5" fill="#fff" class="c"/>
<rect x="275" y="497" width="5" height="5" fill="#fff" class="c"/>
<polygon points="284,497 287,496 287,502.5 284,501.5" fill="#fff" />
<line x1="216" y1="508.8" x2="273" y2="508.8" stroke="#fff" stroke-width="1.4" stroke-dasharray="3,3"/>
<rect x="216" y="491.6" width="56" height="14.4" rx="1.5" fill="#fff"/>
<text transform="translate(243.3,502.6) scale(0.75,1)" x="1.3" y="0" text-anchor="middle" font-size="14.3" letter-spacing="2.6" fill="#000" stroke="#000" stroke-width="0.12" font-weight="normal">BANK 0</text>
<polyline points="284,302 298.5,313 298.5,400.5 306.7,409.4 297.5,417 297.5,502 284.5,514.5" fill="none" stroke="#000" stroke-width="1" stroke-linejoin="miter"/>
<rect x="310" y="399" width="50.6" height="19.1" rx="4" fill="#000"/>
<rect x="312.3" y="401.8" width="45.8" height="13.8" rx="2.4" fill="#fff"/>
<text transform="translate(334.1,412.35) scale(0.75,1)" x="1.5" y="0" text-anchor="middle" font-size="13.6" letter-spacing="3.0" fill="#000" stroke="#000" stroke-width="0.12" font-weight="normal">CACHE</text>
<rect x="84" y="387" width="93" height="91" fill="#000" class="c"/>
<rect x="108" y="410" width="46" height="45" fill="#fff" class="c"/>
<rect x="89" y="389.5" width="3" height="3" fill="#fff" class="c"/>
<rect x="89" y="395.5" width="3" height="3" fill="#fff" class="c"/>
<rect x="89" y="401" width="3" height="3" fill="#fff" class="c"/>
<rect x="89" y="407" width="3" height="3" fill="#fff" class="c"/>
<rect x="89" y="413" width="3" height="3" fill="#fff" class="c"/>
<rect x="89" y="418.5" width="3" height="3" fill="#fff" class="c"/>
<rect x="89" y="424.5" width="3" height="3" fill="#fff" class="c"/>
<rect x="89" y="430" width="3" height="3" fill="#fff" class="c"/>
<rect x="89" y="436" width="3" height="3" fill="#fff" class="c"/>
<rect x="89" y="442" width="3" height="3" fill="#fff" class="c"/>
<rect x="89" y="447.5" width="3" height="3" fill="#fff" class="c"/>
<rect x="89" y="453.5" width="3" height="3" fill="#fff" class="c"/>
<rect x="89" y="459.5" width="3" height="3" fill="#fff" class="c"/>
<rect x="89" y="465" width="3" height="3" fill="#fff" class="c"/>
<rect x="89" y="471" width="3" height="3" fill="#fff" class="c"/>
<rect x="95" y="389.5" width="3" height="3" fill="#fff" class="c"/>
<rect x="95" y="395.5" width="3" height="3" fill="#fff" class="c"/>
<rect x="95" y="401" width="3" height="3" fill="#fff" class="c"/>
<rect x="95" y="407" width="3" height="3" fill="#fff" class="c"/>
<rect x="95" y="413" width="3" height="3" fill="#fff" class="c"/>
<rect x="95" y="418.5" width="3" height="3" fill="#fff" class="c"/>
<rect x="95" y="424.5" width="3" height="3" fill="#fff" class="c"/>
<rect x="95" y="430" width="3" height="3" fill="#fff" class="c"/>
<rect x="95" y="436" width="3" height="3" fill="#fff" class="c"/>
<rect x="95" y="442" width="3" height="3" fill="#fff" class="c"/>
<rect x="95" y="447.5" width="3" height="3" fill="#fff" class="c"/>
<rect x="95" y="453.5" width="3" height="3" fill="#fff" class="c"/>
<rect x="95" y="459.5" width="3" height="3" fill="#fff" class="c"/>
<rect x="95" y="465" width="3" height="3" fill="#fff" class="c"/>
<rect x="95" y="471" width="3" height="3" fill="#fff" class="c"/>
<rect x="100.5" y="389.5" width="3" height="3" fill="#fff" class="c"/>
<rect x="100.5" y="395.5" width="3" height="3" fill="#fff" class="c"/>
<rect x="100.5" y="401" width="3" height="3" fill="#fff" class="c"/>
<rect x="100.5" y="407" width="3" height="3" fill="#fff" class="c"/>
<rect x="100.5" y="413" width="3" height="3" fill="#fff" class="c"/>
<rect x="100.5" y="418.5" width="3" height="3" fill="#fff" class="c"/>
<rect x="100.5" y="424.5" width="3" height="3" fill="#fff" class="c"/>
<rect x="100.5" y="430" width="3" height="3" fill="#fff" class="c"/>
<rect x="100.5" y="436" width="3" height="3" fill="#fff" class="c"/>
<rect x="100.5" y="442" width="3" height="3" fill="#fff" class="c"/>
<rect x="100.5" y="447.5" width="3" height="3" fill="#fff" class="c"/>
<rect x="100.5" y="453.5" width="3" height="3" fill="#fff" class="c"/>
<rect x="100.5" y="459.5" width="3" height="3" fill="#fff" class="c"/>
<rect x="100.5" y="465" width="3" height="3" fill="#fff" class="c"/>
<rect x="100.5" y="471" width="3" height="3" fill="#fff" class="c"/>
<rect x="106.5" y="389.5" width="3" height="3" fill="#fff" class="c"/>
<rect x="106.5" y="395.5" width="3" height="3" fill="#fff" class="c"/>
<rect x="106.5" y="401" width="3" height="3" fill="#fff" class="c"/>
<rect x="106.5" y="459.5" width="3" height="3" fill="#fff" class="c"/>
<rect x="106.5" y="465" width="3" height="3" fill="#fff" class="c"/>
<rect x="106.5" y="471" width="3" height="3" fill="#fff" class="c"/>
<rect x="112.5" y="389.5" width="3" height="3" fill="#fff" class="c"/>
<rect x="112.5" y="395.5" width="3" height="3" fill="#fff" class="c"/>
<rect x="112.5" y="401" width="3" height="3" fill="#fff" class="c"/>
<rect x="112.5" y="459.5" width="3" height="3" fill="#fff" class="c"/>
<rect x="112.5" y="465" width="3" height="3" fill="#fff" class="c"/>
<rect x="112.5" y="471" width="3" height="3" fill="#fff" class="c"/>
<rect x="118" y="389.5" width="3" height="3" fill="#fff" class="c"/>
<rect x="118" y="395.5" width="3" height="3" fill="#fff" class="c"/>
<rect x="118" y="401" width="3" height="3" fill="#fff" class="c"/>
<rect x="118" y="459.5" width="3" height="3" fill="#fff" class="c"/>
<rect x="118" y="465" width="3" height="3" fill="#fff" class="c"/>
<rect x="118" y="471" width="3" height="3" fill="#fff" class="c"/>
<rect x="124" y="389.5" width="3" height="3" fill="#fff" class="c"/>
<rect x="124" y="395.5" width="3" height="3" fill="#fff" class="c"/>
<rect x="124" y="401" width="3" height="3" fill="#fff" class="c"/>
<rect x="124" y="459.5" width="3" height="3" fill="#fff" class="c"/>
<rect x="124" y="465" width="3" height="3" fill="#fff" class="c"/>
<rect x="124" y="471" width="3" height="3" fill="#fff" class="c"/>
<rect x="129.5" y="389.5" width="3" height="3" fill="#fff" class="c"/>
<rect x="129.5" y="395.5" width="3" height="3" fill="#fff" class="c"/>
<rect x="129.5" y="401" width="3" height="3" fill="#fff" class="c"/>
<rect x="129.5" y="459.5" width="3" height="3" fill="#fff" class="c"/>
<rect x="129.5" y="465" width="3" height="3" fill="#fff" class="c"/>
<rect x="129.5" y="471" width="3" height="3" fill="#fff" class="c"/>
<rect x="135.5" y="389.5" width="3" height="3" fill="#fff" class="c"/>
<rect x="135.5" y="395.5" width="3" height="3" fill="#fff" class="c"/>
<rect x="135.5" y="401" width="3" height="3" fill="#fff" class="c"/>
<rect x="135.5" y="459.5" width="3" height="3" fill="#fff" class="c"/>
<rect x="135.5" y="465" width="3" height="3" fill="#fff" class="c"/>
<rect x="135.5" y="471" width="3" height="3" fill="#fff" class="c"/>
<rect x="141.5" y="389.5" width="3" height="3" fill="#fff" class="c"/>
<rect x="141.5" y="395.5" width="3" height="3" fill="#fff" class="c"/>
<rect x="141.5" y="401" width="3" height="3" fill="#fff" class="c"/>
<rect x="141.5" y="459.5" width="3" height="3" fill="#fff" class="c"/>
<rect x="141.5" y="465" width="3" height="3" fill="#fff" class="c"/>
<rect x="141.5" y="471" width="3" height="3" fill="#fff" class="c"/>
<rect x="147" y="389.5" width="3" height="3" fill="#fff" class="c"/>
<rect x="147" y="395.5" width="3" height="3" fill="#fff" class="c"/>
<rect x="147" y="401" width="3" height="3" fill="#fff" class="c"/>
<rect x="147" y="459.5" width="3" height="3" fill="#fff" class="c"/>
<rect x="147" y="465" width="3" height="3" fill="#fff" class="c"/>
<rect x="147" y="471" width="3" height="3" fill="#fff" class="c"/>
<rect x="153" y="389.5" width="3" height="3" fill="#fff" class="c"/>
<rect x="153" y="395.5" width="3" height="3" fill="#fff" class="c"/>
<rect x="153" y="401" width="3" height="3" fill="#fff" class="c"/>
<rect x="153" y="459.5" width="3" height="3" fill="#fff" class="c"/>
<rect x="153" y="465" width="3" height="3" fill="#fff" class="c"/>
<rect x="153" y="471" width="3" height="3" fill="#fff" class="c"/>
<rect x="159" y="389.5" width="3" height="3" fill="#fff" class="c"/>
<rect x="159" y="395.5" width="3" height="3" fill="#fff" class="c"/>
<rect x="159" y="401" width="3" height="3" fill="#fff" class="c"/>
<rect x="159" y="407" width="3" height="3" fill="#fff" class="c"/>
<rect x="159" y="413" width="3" height="3" fill="#fff" class="c"/>
<rect x="159" y="418.5" width="3" height="3" fill="#fff" class="c"/>
<rect x="159" y="424.5" width="3" height="3" fill="#fff" class="c"/>
<rect x="159" y="430" width="3" height="3" fill="#fff" class="c"/>
<rect x="159" y="436" width="3" height="3" fill="#fff" class="c"/>
<rect x="159" y="442" width="3" height="3" fill="#fff" class="c"/>
<rect x="159" y="447.5" width="3" height="3" fill="#fff" class="c"/>
<rect x="159" y="453.5" width="3" height="3" fill="#fff" class="c"/>
<rect x="159" y="459.5" width="3" height="3" fill="#fff" class="c"/>
<rect x="159" y="465" width="3" height="3" fill="#fff" class="c"/>
<rect x="159" y="471" width="3" height="3" fill="#fff" class="c"/>
<rect x="164.5" y="389.5" width="3" height="3" fill="#fff" class="c"/>
<rect x="164.5" y="395.5" width="3" height="3" fill="#fff" class="c"/>
<rect x="164.5" y="401" width="3" height="3" fill="#fff" class="c"/>
<rect x="164.5" y="407" width="3" height="3" fill="#fff" class="c"/>
<rect x="164.5" y="413" width="3" height="3" fill="#fff" class="c"/>
<rect x="164.5" y="418.5" width="3" height="3" fill="#fff" class="c"/>
<rect x="164.5" y="424.5" width="3" height="3" fill="#fff" class="c"/>
<rect x="164.5" y="430" width="3" height="3" fill="#fff" class="c"/>
<rect x="164.5" y="436" width="3" height="3" fill="#fff" class="c"/>
<rect x="164.5" y="442" width="3" height="3" fill="#fff" class="c"/>
<rect x="164.5" y="447.5" width="3" height="3" fill="#fff" class="c"/>
<rect x="164.5" y="453.5" width="3" height="3" fill="#fff" class="c"/>
<rect x="164.5" y="459.5" width="3" height="3" fill="#fff" class="c"/>
<rect x="164.5" y="465" width="3" height="3" fill="#fff" class="c"/>
<rect x="164.5" y="471" width="3" height="3" fill="#fff" class="c"/>
<rect x="170.5" y="389.5" width="3" height="3" fill="#fff" class="c"/>
<rect x="170.5" y="395.5" width="3" height="3" fill="#fff" class="c"/>
<rect x="170.5" y="401" width="3" height="3" fill="#fff" class="c"/>
<rect x="170.5" y="407" width="3" height="3" fill="#fff" class="c"/>
<rect x="170.5" y="413" width="3" height="3" fill="#fff" class="c"/>
<rect x="170.5" y="418.5" width="3" height="3" fill="#fff" class="c"/>
<rect x="170.5" y="424.5" width="3" height="3" fill="#fff" class="c"/>
<rect x="170.5" y="430" width="3" height="3" fill="#fff" class="c"/>
<rect x="170.5" y="436" width="3" height="3" fill="#fff" class="c"/>
<rect x="170.5" y="442" width="3" height="3" fill="#fff" class="c"/>
<rect x="170.5" y="447.5" width="3" height="3" fill="#fff" class="c"/>
<rect x="170.5" y="453.5" width="3" height="3" fill="#fff" class="c"/>
<rect x="170.5" y="459.5" width="3" height="3" fill="#fff" class="c"/>
<rect x="170.5" y="465" width="3" height="3" fill="#fff" class="c"/>
<rect x="170.5" y="471" width="3" height="3" fill="#fff" class="c"/>
<circle cx="150.5" cy="450.7" r="2.4" fill="#000"/>
<rect x="114.25" y="423" width="32.5" height="19" rx="4" fill="#000"/>
<rect x="116.75" y="425.6" width="27.5" height="14.1" rx="2.4" fill="#fff"/>
<text transform="translate(130.5,435.20000000000005) scale(0.75,1)" x="1.5" y="0" text-anchor="middle" font-size="13.6" letter-spacing="3.0" fill="#000" stroke="#000" stroke-width="0.12" font-weight="normal">NPU</text>
<rect x="520" y="358" width="227" height="19" fill="#000" class="c"/>
<rect x="521" y="359" width="225" height="17" fill="#fff" class="c"/>
<rect x="520" y="365" width="7" height="1" fill="#000" class="c"/>
<rect x="520" y="371" width="7" height="1" fill="#000" class="c"/>
<rect x="527" y="359" width="4" height="16" fill="#000" class="c"/>
<rect x="531" y="364" width="11" height="10.5" fill="#000" class="c"/>
<rect x="531" y="365" width="10" height="8.5" fill="#fff" class="c"/>
<rect x="531" y="360" width="8" height="7" fill="#000" class="c"/>
<rect x="531" y="361" width="7" height="5" fill="#fff" class="c"/>
<rect x="531" y="366" width="3" height="1" fill="#fff" class="c"/>
<rect x="531" y="361.5" width="3.5" height="1.5" fill="#000" class="c"/>
<rect x="533.3" y="361.5" width="1.2" height="5" fill="#000" class="c"/>
<rect x="530" y="373" width="2" height="2" fill="#000" class="c"/>
<rect x="546" y="360" width="174.5" height="14" fill="#000" class="c"/>
<rect x="545" y="362" width="1" height="11" fill="#000" class="c"/>
<rect x="548.00" y="367" width="4.45" height="5.7" fill="#fff"/>
<rect x="549.60" y="361" width="1.6" height="6" fill="#fff"/>
<rect x="553.88" y="367" width="4.45" height="5.7" fill="#fff"/>
<rect x="555.49" y="361" width="1.2" height="5" fill="#fff"/>
<rect x="559.77" y="367" width="4.45" height="5.7" fill="#fff"/>
<rect x="561.37" y="361" width="1.2" height="5" fill="#fff"/>
<rect x="565.65" y="367" width="4.45" height="5.7" fill="#fff"/>
<rect x="567.25" y="361" width="1.6" height="5" fill="#fff"/>
<rect x="571.54" y="367" width="4.45" height="5.7" fill="#fff"/>
<rect x="573.14" y="361" width="1.2" height="5" fill="#fff"/>
<rect x="577.42" y="367" width="4.45" height="5.7" fill="#fff"/>
<rect x="579.02" y="361" width="1.2" height="6" fill="#fff"/>
<rect x="583.31" y="367" width="4.45" height="5.7" fill="#fff"/>
<rect x="584.91" y="361" width="1.6" height="5" fill="#fff"/>
<rect x="589.20" y="367" width="4.45" height="5.7" fill="#fff"/>
<rect x="590.80" y="361" width="1.2" height="5" fill="#fff"/>
<rect x="595.08" y="367" width="4.45" height="5.7" fill="#fff"/>
<rect x="596.68" y="361" width="1.2" height="5" fill="#fff"/>
<rect x="600.97" y="367" width="4.45" height="5.7" fill="#fff"/>
<rect x="602.57" y="361" width="1.6" height="5" fill="#fff"/>
<rect x="606.85" y="367" width="4.45" height="5.7" fill="#fff"/>
<rect x="608.45" y="361" width="1.2" height="6" fill="#fff"/>
<rect x="612.74" y="367" width="4.45" height="5.7" fill="#fff"/>
<rect x="614.34" y="361" width="1.2" height="5" fill="#fff"/>
<rect x="618.62" y="367" width="4.45" height="5.7" fill="#fff"/>
<rect x="620.22" y="361" width="1.6" height="5" fill="#fff"/>
<rect x="624.50" y="367" width="4.45" height="5.7" fill="#fff"/>
<rect x="626.11" y="361" width="1.2" height="5" fill="#fff"/>
<rect x="630.39" y="367" width="4.45" height="5.7" fill="#fff"/>
<rect x="631.99" y="361" width="1.2" height="5" fill="#fff"/>
<rect x="636.27" y="367" width="4.45" height="5.7" fill="#fff"/>
<rect x="637.88" y="361" width="1.6" height="6" fill="#fff"/>
<rect x="642.16" y="367" width="4.45" height="5.7" fill="#fff"/>
<rect x="643.76" y="361" width="1.2" height="5" fill="#fff"/>
<rect x="648.04" y="367" width="4.45" height="5.7" fill="#fff"/>
<rect x="649.64" y="361" width="1.2" height="5" fill="#fff"/>
<rect x="653.93" y="367" width="4.45" height="5.7" fill="#fff"/>
<rect x="655.53" y="361" width="1.6" height="5" fill="#fff"/>
<rect x="659.82" y="367" width="4.45" height="5.7" fill="#fff"/>
<rect x="661.42" y="361" width="1.2" height="5" fill="#fff"/>
<rect x="665.70" y="367" width="4.45" height="5.7" fill="#fff"/>
<rect x="667.30" y="361" width="1.2" height="6" fill="#fff"/>
<rect x="671.59" y="367" width="4.45" height="5.7" fill="#fff"/>
<rect x="673.19" y="361" width="1.6" height="5" fill="#fff"/>
<rect x="677.47" y="367" width="4.45" height="5.7" fill="#fff"/>
<rect x="679.07" y="361" width="1.2" height="5" fill="#fff"/>
<rect x="683.36" y="367" width="4.45" height="5.7" fill="#fff"/>
<rect x="684.96" y="361" width="1.2" height="5" fill="#fff"/>
<rect x="689.24" y="367" width="4.45" height="5.7" fill="#fff"/>
<rect x="690.84" y="361" width="1.6" height="5" fill="#fff"/>
<rect x="695.12" y="367" width="4.45" height="5.7" fill="#fff"/>
<rect x="696.73" y="361" width="1.2" height="6" fill="#fff"/>
<rect x="701.01" y="367" width="4.45" height="5.7" fill="#fff"/>
<rect x="702.61" y="361" width="1.2" height="5" fill="#fff"/>
<rect x="706.89" y="367" width="4.45" height="5.7" fill="#fff"/>
<rect x="708.50" y="361" width="1.6" height="5" fill="#fff"/>
<rect x="712.78" y="367" width="4.45" height="5.7" fill="#fff"/>
<rect x="714.38" y="361" width="1.2" height="5" fill="#fff"/>
<rect x="724" y="364" width="10.5" height="10.5" fill="#000" class="c"/>
<rect x="725" y="365" width="9.5" height="8.5" fill="#fff" class="c"/>
<rect x="727" y="360" width="7.5" height="7" fill="#000" class="c"/>
<rect x="728" y="361" width="6.5" height="5" fill="#fff" class="c"/>
<rect x="731.5" y="366" width="3" height="1" fill="#fff" class="c"/>
<rect x="730.5" y="361.5" width="3.5" height="1.5" fill="#000" class="c"/>
<rect x="730.5" y="361.5" width="1.2" height="5" fill="#000" class="c"/>
<rect x="734" y="359" width="3.7" height="16" fill="#000" class="c"/>
<rect x="733" y="373.5" width="2" height="1.5" fill="#000" class="c"/>
<rect x="737" y="365" width="10" height="1.2" fill="#000" class="c"/>
<rect x="737" y="372.4" width="10" height="1" fill="#000" class="c"/>
<rect x="520" y="378" width="227" height="19" fill="#000" class="c"/>
<rect x="521" y="379" width="225" height="17" fill="#fff" class="c"/>
<rect x="520" y="385" width="7" height="1" fill="#000" class="c"/>
<rect x="520" y="391" width="7" height="1" fill="#000" class="c"/>
<rect x="527" y="379" width="4" height="16" fill="#000" class="c"/>
<rect x="531" y="384" width="11" height="10.5" fill="#000" class="c"/>
<rect x="531" y="385" width="10" height="8.5" fill="#fff" class="c"/>
<rect x="531" y="380" width="8" height="7" fill="#000" class="c"/>
<rect x="531" y="381" width="7" height="5" fill="#fff" class="c"/>
<rect x="531" y="386" width="3" height="1" fill="#fff" class="c"/>
<rect x="531" y="381.5" width="3.5" height="1.5" fill="#000" class="c"/>
<rect x="533.3" y="381.5" width="1.2" height="5" fill="#000" class="c"/>
<rect x="530" y="393" width="2" height="2" fill="#000" class="c"/>
<rect x="546" y="380" width="174.5" height="14" fill="#000" class="c"/>
<rect x="545" y="382" width="1" height="11" fill="#000" class="c"/>
<rect x="548.00" y="387" width="4.45" height="5.7" fill="#fff"/>
<rect x="549.60" y="381" width="1.6" height="6" fill="#fff"/>
<rect x="553.88" y="387" width="4.45" height="5.7" fill="#fff"/>
<rect x="555.49" y="381" width="1.2" height="5" fill="#fff"/>
<rect x="559.77" y="387" width="4.45" height="5.7" fill="#fff"/>
<rect x="561.37" y="381" width="1.2" height="5" fill="#fff"/>
<rect x="565.65" y="387" width="4.45" height="5.7" fill="#fff"/>
<rect x="567.25" y="381" width="1.6" height="5" fill="#fff"/>
<rect x="571.54" y="387" width="4.45" height="5.7" fill="#fff"/>
<rect x="573.14" y="381" width="1.2" height="5" fill="#fff"/>
<rect x="577.42" y="387" width="4.45" height="5.7" fill="#fff"/>
<rect x="579.02" y="381" width="1.2" height="6" fill="#fff"/>
<rect x="583.31" y="387" width="4.45" height="5.7" fill="#fff"/>
<rect x="584.91" y="381" width="1.6" height="5" fill="#fff"/>
<rect x="589.20" y="387" width="4.45" height="5.7" fill="#fff"/>
<rect x="590.80" y="381" width="1.2" height="5" fill="#fff"/>
<rect x="595.08" y="387" width="4.45" height="5.7" fill="#fff"/>
<rect x="596.68" y="381" width="1.2" height="5" fill="#fff"/>
<rect x="600.97" y="387" width="4.45" height="5.7" fill="#fff"/>
<rect x="602.57" y="381" width="1.6" height="5" fill="#fff"/>
<rect x="606.85" y="387" width="4.45" height="5.7" fill="#fff"/>
<rect x="608.45" y="381" width="1.2" height="6" fill="#fff"/>
<rect x="612.74" y="387" width="4.45" height="5.7" fill="#fff"/>
<rect x="614.34" y="381" width="1.2" height="5" fill="#fff"/>
<rect x="618.62" y="387" width="4.45" height="5.7" fill="#fff"/>
<rect x="620.22" y="381" width="1.6" height="5" fill="#fff"/>
<rect x="624.50" y="387" width="4.45" height="5.7" fill="#fff"/>
<rect x="626.11" y="381" width="1.2" height="5" fill="#fff"/>
<rect x="630.39" y="387" width="4.45" height="5.7" fill="#fff"/>
<rect x="631.99" y="381" width="1.2" height="5" fill="#fff"/>
<rect x="636.27" y="387" width="4.45" height="5.7" fill="#fff"/>
<rect x="637.88" y="381" width="1.6" height="6" fill="#fff"/>
<rect x="642.16" y="387" width="4.45" height="5.7" fill="#fff"/>
<rect x="643.76" y="381" width="1.2" height="5" fill="#fff"/>
<rect x="648.04" y="387" width="4.45" height="5.7" fill="#fff"/>
<rect x="649.64" y="381" width="1.2" height="5" fill="#fff"/>
<rect x="653.93" y="387" width="4.45" height="5.7" fill="#fff"/>
<rect x="655.53" y="381" width="1.6" height="5" fill="#fff"/>
<rect x="659.82" y="387" width="4.45" height="5.7" fill="#fff"/>
<rect x="661.42" y="381" width="1.2" height="5" fill="#fff"/>
<rect x="665.70" y="387" width="4.45" height="5.7" fill="#fff"/>
<rect x="667.30" y="381" width="1.2" height="6" fill="#fff"/>
<rect x="671.59" y="387" width="4.45" height="5.7" fill="#fff"/>
<rect x="673.19" y="381" width="1.6" height="5" fill="#fff"/>
<rect x="677.47" y="387" width="4.45" height="5.7" fill="#fff"/>
<rect x="679.07" y="381" width="1.2" height="5" fill="#fff"/>
<rect x="683.36" y="387" width="4.45" height="5.7" fill="#fff"/>
<rect x="684.96" y="381" width="1.2" height="5" fill="#fff"/>
<rect x="689.24" y="387" width="4.45" height="5.7" fill="#fff"/>
<rect x="690.84" y="381" width="1.6" height="5" fill="#fff"/>
<rect x="695.12" y="387" width="4.45" height="5.7" fill="#fff"/>
<rect x="696.73" y="381" width="1.2" height="6" fill="#fff"/>
<rect x="701.01" y="387" width="4.45" height="5.7" fill="#fff"/>
<rect x="702.61" y="381" width="1.2" height="5" fill="#fff"/>
<rect x="706.89" y="387" width="4.45" height="5.7" fill="#fff"/>
<rect x="708.50" y="381" width="1.6" height="5" fill="#fff"/>
<rect x="712.78" y="387" width="4.45" height="5.7" fill="#fff"/>
<rect x="714.38" y="381" width="1.2" height="5" fill="#fff"/>
<rect x="724" y="384" width="10.5" height="10.5" fill="#000" class="c"/>
<rect x="725" y="385" width="9.5" height="8.5" fill="#fff" class="c"/>
<rect x="727" y="380" width="7.5" height="7" fill="#000" class="c"/>
<rect x="728" y="381" width="6.5" height="5" fill="#fff" class="c"/>
<rect x="731.5" y="386" width="3" height="1" fill="#fff" class="c"/>
<rect x="730.5" y="381.5" width="3.5" height="1.5" fill="#000" class="c"/>
<rect x="730.5" y="381.5" width="1.2" height="5" fill="#000" class="c"/>
<rect x="734" y="379" width="3.7" height="16" fill="#000" class="c"/>
<rect x="733" y="393.5" width="2" height="1.5" fill="#000" class="c"/>
<rect x="737" y="385" width="10" height="1.2" fill="#000" class="c"/>
<rect x="737" y="392.4" width="10" height="1" fill="#000" class="c"/>
<rect x="520" y="398" width="227" height="19" fill="#000" class="c"/>
<rect x="521" y="399" width="225" height="17" fill="#fff" class="c"/>
<rect x="520" y="405" width="7" height="1" fill="#000" class="c"/>
<rect x="520" y="411" width="7" height="1" fill="#000" class="c"/>
<rect x="527" y="399" width="4" height="16" fill="#000" class="c"/>
<rect x="531" y="404" width="11" height="10.5" fill="#000" class="c"/>
<rect x="531" y="405" width="10" height="8.5" fill="#fff" class="c"/>
<rect x="531" y="400" width="8" height="7" fill="#000" class="c"/>
<rect x="531" y="401" width="7" height="5" fill="#fff" class="c"/>
<rect x="531" y="406" width="3" height="1" fill="#fff" class="c"/>
<rect x="531" y="401.5" width="3.5" height="1.5" fill="#000" class="c"/>
<rect x="533.3" y="401.5" width="1.2" height="5" fill="#000" class="c"/>
<rect x="530" y="413" width="2" height="2" fill="#000" class="c"/>
<rect x="546" y="400" width="174.5" height="14" fill="#000" class="c"/>
<rect x="545" y="402" width="1" height="11" fill="#000" class="c"/>
<rect x="548.00" y="407" width="4.45" height="5.7" fill="#fff"/>
<rect x="549.60" y="401" width="1.6" height="6" fill="#fff"/>
<rect x="553.88" y="407" width="4.45" height="5.7" fill="#fff"/>
<rect x="555.49" y="401" width="1.2" height="5" fill="#fff"/>
<rect x="559.77" y="407" width="4.45" height="5.7" fill="#fff"/>
<rect x="561.37" y="401" width="1.2" height="5" fill="#fff"/>
<rect x="565.65" y="407" width="4.45" height="5.7" fill="#fff"/>
<rect x="567.25" y="401" width="1.6" height="5" fill="#fff"/>
<rect x="571.54" y="407" width="4.45" height="5.7" fill="#fff"/>
<rect x="573.14" y="401" width="1.2" height="5" fill="#fff"/>
<rect x="577.42" y="407" width="4.45" height="5.7" fill="#fff"/>
<rect x="579.02" y="401" width="1.2" height="6" fill="#fff"/>
<rect x="583.31" y="407" width="4.45" height="5.7" fill="#fff"/>
<rect x="584.91" y="401" width="1.6" height="5" fill="#fff"/>
<rect x="589.20" y="407" width="4.45" height="5.7" fill="#fff"/>
<rect x="590.80" y="401" width="1.2" height="5" fill="#fff"/>
<rect x="595.08" y="407" width="4.45" height="5.7" fill="#fff"/>
<rect x="596.68" y="401" width="1.2" height="5" fill="#fff"/>
<rect x="600.97" y="407" width="4.45" height="5.7" fill="#fff"/>
<rect x="602.57" y="401" width="1.6" height="5" fill="#fff"/>
<rect x="606.85" y="407" width="4.45" height="5.7" fill="#fff"/>
<rect x="608.45" y="401" width="1.2" height="6" fill="#fff"/>
<rect x="612.74" y="407" width="4.45" height="5.7" fill="#fff"/>
<rect x="614.34" y="401" width="1.2" height="5" fill="#fff"/>
<rect x="618.62" y="407" width="4.45" height="5.7" fill="#fff"/>
<rect x="620.22" y="401" width="1.6" height="5" fill="#fff"/>
<rect x="624.50" y="407" width="4.45" height="5.7" fill="#fff"/>
<rect x="626.11" y="401" width="1.2" height="5" fill="#fff"/>
<rect x="630.39" y="407" width="4.45" height="5.7" fill="#fff"/>
<rect x="631.99" y="401" width="1.2" height="5" fill="#fff"/>
<rect x="636.27" y="407" width="4.45" height="5.7" fill="#fff"/>
<rect x="637.88" y="401" width="1.6" height="6" fill="#fff"/>
<rect x="642.16" y="407" width="4.45" height="5.7" fill="#fff"/>
<rect x="643.76" y="401" width="1.2" height="5" fill="#fff"/>
<rect x="648.04" y="407" width="4.45" height="5.7" fill="#fff"/>
<rect x="649.64" y="401" width="1.2" height="5" fill="#fff"/>
<rect x="653.93" y="407" width="4.45" height="5.7" fill="#fff"/>
<rect x="655.53" y="401" width="1.6" height="5" fill="#fff"/>
<rect x="659.82" y="407" width="4.45" height="5.7" fill="#fff"/>
<rect x="661.42" y="401" width="1.2" height="5" fill="#fff"/>
<rect x="665.70" y="407" width="4.45" height="5.7" fill="#fff"/>
<rect x="667.30" y="401" width="1.2" height="6" fill="#fff"/>
<rect x="671.59" y="407" width="4.45" height="5.7" fill="#fff"/>
<rect x="673.19" y="401" width="1.6" height="5" fill="#fff"/>
<rect x="677.47" y="407" width="4.45" height="5.7" fill="#fff"/>
<rect x="679.07" y="401" width="1.2" height="5" fill="#fff"/>
<rect x="683.36" y="407" width="4.45" height="5.7" fill="#fff"/>
<rect x="684.96" y="401" width="1.2" height="5" fill="#fff"/>
<rect x="689.24" y="407" width="4.45" height="5.7" fill="#fff"/>
<rect x="690.84" y="401" width="1.6" height="5" fill="#fff"/>
<rect x="695.12" y="407" width="4.45" height="5.7" fill="#fff"/>
<rect x="696.73" y="401" width="1.2" height="6" fill="#fff"/>
<rect x="701.01" y="407" width="4.45" height="5.7" fill="#fff"/>
<rect x="702.61" y="401" width="1.2" height="5" fill="#fff"/>
<rect x="706.89" y="407" width="4.45" height="5.7" fill="#fff"/>
<rect x="708.50" y="401" width="1.6" height="5" fill="#fff"/>
<rect x="712.78" y="407" width="4.45" height="5.7" fill="#fff"/>
<rect x="714.38" y="401" width="1.2" height="5" fill="#fff"/>
<rect x="724" y="404" width="10.5" height="10.5" fill="#000" class="c"/>
<rect x="725" y="405" width="9.5" height="8.5" fill="#fff" class="c"/>
<rect x="727" y="400" width="7.5" height="7" fill="#000" class="c"/>
<rect x="728" y="401" width="6.5" height="5" fill="#fff" class="c"/>
<rect x="731.5" y="406" width="3" height="1" fill="#fff" class="c"/>
<rect x="730.5" y="401.5" width="3.5" height="1.5" fill="#000" class="c"/>
<rect x="730.5" y="401.5" width="1.2" height="5" fill="#000" class="c"/>
<rect x="734" y="399" width="3.7" height="16" fill="#000" class="c"/>
<rect x="733" y="413.5" width="2" height="1.5" fill="#000" class="c"/>
<rect x="737" y="405" width="10" height="1.2" fill="#000" class="c"/>
<rect x="737" y="412.4" width="10" height="1" fill="#000" class="c"/>
<rect x="520" y="418" width="227" height="19" fill="#000" class="c"/>
<rect x="521" y="419" width="225" height="17" fill="#fff" class="c"/>
<rect x="520" y="425" width="7" height="1" fill="#000" class="c"/>
<rect x="520" y="431" width="7" height="1" fill="#000" class="c"/>
<rect x="527" y="419" width="4" height="16" fill="#000" class="c"/>
<rect x="531" y="424" width="11" height="10.5" fill="#000" class="c"/>
<rect x="531" y="425" width="10" height="8.5" fill="#fff" class="c"/>
<rect x="531" y="420" width="8" height="7" fill="#000" class="c"/>
<rect x="531" y="421" width="7" height="5" fill="#fff" class="c"/>
<rect x="531" y="426" width="3" height="1" fill="#fff" class="c"/>
<rect x="531" y="421.5" width="3.5" height="1.5" fill="#000" class="c"/>
<rect x="533.3" y="421.5" width="1.2" height="5" fill="#000" class="c"/>
<rect x="530" y="433" width="2" height="2" fill="#000" class="c"/>
<rect x="546" y="420" width="174.5" height="14" fill="#000" class="c"/>
<rect x="545" y="422" width="1" height="11" fill="#000" class="c"/>
<rect x="548.00" y="427" width="4.45" height="5.7" fill="#fff"/>
<rect x="549.60" y="421" width="1.6" height="6" fill="#fff"/>
<rect x="553.88" y="427" width="4.45" height="5.7" fill="#fff"/>
<rect x="555.49" y="421" width="1.2" height="5" fill="#fff"/>
<rect x="559.77" y="427" width="4.45" height="5.7" fill="#fff"/>
<rect x="561.37" y="421" width="1.2" height="5" fill="#fff"/>
<rect x="565.65" y="427" width="4.45" height="5.7" fill="#fff"/>
<rect x="567.25" y="421" width="1.6" height="5" fill="#fff"/>
<rect x="571.54" y="427" width="4.45" height="5.7" fill="#fff"/>
<rect x="573.14" y="421" width="1.2" height="5" fill="#fff"/>
<rect x="577.42" y="427" width="4.45" height="5.7" fill="#fff"/>
<rect x="579.02" y="421" width="1.2" height="6" fill="#fff"/>
<rect x="583.31" y="427" width="4.45" height="5.7" fill="#fff"/>
<rect x="584.91" y="421" width="1.6" height="5" fill="#fff"/>
<rect x="589.20" y="427" width="4.45" height="5.7" fill="#fff"/>
<rect x="590.80" y="421" width="1.2" height="5" fill="#fff"/>
<rect x="595.08" y="427" width="4.45" height="5.7" fill="#fff"/>
<rect x="596.68" y="421" width="1.2" height="5" fill="#fff"/>
<rect x="600.97" y="427" width="4.45" height="5.7" fill="#fff"/>
<rect x="602.57" y="421" width="1.6" height="5" fill="#fff"/>
<rect x="606.85" y="427" width="4.45" height="5.7" fill="#fff"/>
<rect x="608.45" y="421" width="1.2" height="6" fill="#fff"/>
<rect x="612.74" y="427" width="4.45" height="5.7" fill="#fff"/>
<rect x="614.34" y="421" width="1.2" height="5" fill="#fff"/>
<rect x="618.62" y="427" width="4.45" height="5.7" fill="#fff"/>
<rect x="620.22" y="421" width="1.6" height="5" fill="#fff"/>
<rect x="624.50" y="427" width="4.45" height="5.7" fill="#fff"/>
<rect x="626.11" y="421" width="1.2" height="5" fill="#fff"/>
<rect x="630.39" y="427" width="4.45" height="5.7" fill="#fff"/>
<rect x="631.99" y="421" width="1.2" height="5" fill="#fff"/>
<rect x="636.27" y="427" width="4.45" height="5.7" fill="#fff"/>
<rect x="637.88" y="421" width="1.6" height="6" fill="#fff"/>
<rect x="642.16" y="427" width="4.45" height="5.7" fill="#fff"/>
<rect x="643.76" y="421" width="1.2" height="5" fill="#fff"/>
<rect x="648.04" y="427" width="4.45" height="5.7" fill="#fff"/>
<rect x="649.64" y="421" width="1.2" height="5" fill="#fff"/>
<rect x="653.93" y="427" width="4.45" height="5.7" fill="#fff"/>
<rect x="655.53" y="421" width="1.6" height="5" fill="#fff"/>
<rect x="659.82" y="427" width="4.45" height="5.7" fill="#fff"/>
<rect x="661.42" y="421" width="1.2" height="5" fill="#fff"/>
<rect x="665.70" y="427" width="4.45" height="5.7" fill="#fff"/>
<rect x="667.30" y="421" width="1.2" height="6" fill="#fff"/>
<rect x="671.59" y="427" width="4.45" height="5.7" fill="#fff"/>
<rect x="673.19" y="421" width="1.6" height="5" fill="#fff"/>
<rect x="677.47" y="427" width="4.45" height="5.7" fill="#fff"/>
<rect x="679.07" y="421" width="1.2" height="5" fill="#fff"/>
<rect x="683.36" y="427" width="4.45" height="5.7" fill="#fff"/>
<rect x="684.96" y="421" width="1.2" height="5" fill="#fff"/>
<rect x="689.24" y="427" width="4.45" height="5.7" fill="#fff"/>
<rect x="690.84" y="421" width="1.6" height="5" fill="#fff"/>
<rect x="695.12" y="427" width="4.45" height="5.7" fill="#fff"/>
<rect x="696.73" y="421" width="1.2" height="6" fill="#fff"/>
<rect x="701.01" y="427" width="4.45" height="5.7" fill="#fff"/>
<rect x="702.61" y="421" width="1.2" height="5" fill="#fff"/>
<rect x="706.89" y="427" width="4.45" height="5.7" fill="#fff"/>
<rect x="708.50" y="421" width="1.6" height="5" fill="#fff"/>
<rect x="712.78" y="427" width="4.45" height="5.7" fill="#fff"/>
<rect x="714.38" y="421" width="1.2" height="5" fill="#fff"/>
<rect x="724" y="424" width="10.5" height="10.5" fill="#000" class="c"/>
<rect x="725" y="425" width="9.5" height="8.5" fill="#fff" class="c"/>
<rect x="727" y="420" width="7.5" height="7" fill="#000" class="c"/>
<rect x="728" y="421" width="6.5" height="5" fill="#fff" class="c"/>
<rect x="731.5" y="426" width="3" height="1" fill="#fff" class="c"/>
<rect x="730.5" y="421.5" width="3.5" height="1.5" fill="#000" class="c"/>
<rect x="730.5" y="421.5" width="1.2" height="5" fill="#000" class="c"/>
<rect x="734" y="419" width="3.7" height="16" fill="#000" class="c"/>
<rect x="733" y="433.5" width="2" height="1.5" fill="#000" class="c"/>
<rect x="737" y="425" width="10" height="1.2" fill="#000" class="c"/>
<rect x="737" y="432.4" width="10" height="1" fill="#000" class="c"/>
<rect x="520" y="438" width="227" height="19" fill="#000" class="c"/>
<rect x="521" y="439" width="225" height="17" fill="#fff" class="c"/>
<rect x="520" y="445" width="7" height="1" fill="#000" class="c"/>
<rect x="520" y="451" width="7" height="1" fill="#000" class="c"/>
<rect x="527" y="439" width="4" height="16" fill="#000" class="c"/>
<rect x="531" y="444" width="11" height="10.5" fill="#000" class="c"/>
<rect x="531" y="445" width="10" height="8.5" fill="#fff" class="c"/>
<rect x="531" y="440" width="8" height="7" fill="#000" class="c"/>
<rect x="531" y="441" width="7" height="5" fill="#fff" class="c"/>
<rect x="531" y="446" width="3" height="1" fill="#fff" class="c"/>
<rect x="531" y="441.5" width="3.5" height="1.5" fill="#000" class="c"/>
<rect x="533.3" y="441.5" width="1.2" height="5" fill="#000" class="c"/>
<rect x="530" y="453" width="2" height="2" fill="#000" class="c"/>
<rect x="546" y="440" width="174.5" height="14" fill="#000" class="c"/>
<rect x="545" y="442" width="1" height="11" fill="#000" class="c"/>
<rect x="548.00" y="447" width="4.45" height="5.7" fill="#fff"/>
<rect x="549.60" y="441" width="1.6" height="6" fill="#fff"/>
<rect x="553.88" y="447" width="4.45" height="5.7" fill="#fff"/>
<rect x="555.49" y="441" width="1.2" height="5" fill="#fff"/>
<rect x="559.77" y="447" width="4.45" height="5.7" fill="#fff"/>
<rect x="561.37" y="441" width="1.2" height="5" fill="#fff"/>
<rect x="565.65" y="447" width="4.45" height="5.7" fill="#fff"/>
<rect x="567.25" y="441" width="1.6" height="5" fill="#fff"/>
<rect x="571.54" y="447" width="4.45" height="5.7" fill="#fff"/>
<rect x="573.14" y="441" width="1.2" height="5" fill="#fff"/>
<rect x="577.42" y="447" width="4.45" height="5.7" fill="#fff"/>
<rect x="579.02" y="441" width="1.2" height="6" fill="#fff"/>
<rect x="583.31" y="447" width="4.45" height="5.7" fill="#fff"/>
<rect x="584.91" y="441" width="1.6" height="5" fill="#fff"/>
<rect x="589.20" y="447" width="4.45" height="5.7" fill="#fff"/>
<rect x="590.80" y="441" width="1.2" height="5" fill="#fff"/>
<rect x="595.08" y="447" width="4.45" height="5.7" fill="#fff"/>
<rect x="596.68" y="441" width="1.2" height="5" fill="#fff"/>
<rect x="600.97" y="447" width="4.45" height="5.7" fill="#fff"/>
<rect x="602.57" y="441" width="1.6" height="5" fill="#fff"/>
<rect x="606.85" y="447" width="4.45" height="5.7" fill="#fff"/>
<rect x="608.45" y="441" width="1.2" height="6" fill="#fff"/>
<rect x="612.74" y="447" width="4.45" height="5.7" fill="#fff"/>
<rect x="614.34" y="441" width="1.2" height="5" fill="#fff"/>
<rect x="618.62" y="447" width="4.45" height="5.7" fill="#fff"/>
<rect x="620.22" y="441" width="1.6" height="5" fill="#fff"/>
<rect x="624.50" y="447" width="4.45" height="5.7" fill="#fff"/>
<rect x="626.11" y="441" width="1.2" height="5" fill="#fff"/>
<rect x="630.39" y="447" width="4.45" height="5.7" fill="#fff"/>
<rect x="631.99" y="441" width="1.2" height="5" fill="#fff"/>
<rect x="636.27" y="447" width="4.45" height="5.7" fill="#fff"/>
<rect x="637.88" y="441" width="1.6" height="6" fill="#fff"/>
<rect x="642.16" y="447" width="4.45" height="5.7" fill="#fff"/>
<rect x="643.76" y="441" width="1.2" height="5" fill="#fff"/>
<rect x="648.04" y="447" width="4.45" height="5.7" fill="#fff"/>
<rect x="649.64" y="441" width="1.2" height="5" fill="#fff"/>
<rect x="653.93" y="447" width="4.45" height="5.7" fill="#fff"/>
<rect x="655.53" y="441" width="1.6" height="5" fill="#fff"/>
<rect x="659.82" y="447" width="4.45" height="5.7" fill="#fff"/>
<rect x="661.42" y="441" width="1.2" height="5" fill="#fff"/>
<rect x="665.70" y="447" width="4.45" height="5.7" fill="#fff"/>
<rect x="667.30" y="441" width="1.2" height="6" fill="#fff"/>
<rect x="671.59" y="447" width="4.45" height="5.7" fill="#fff"/>
<rect x="673.19" y="441" width="1.6" height="5" fill="#fff"/>
<rect x="677.47" y="447" width="4.45" height="5.7" fill="#fff"/>
<rect x="679.07" y="441" width="1.2" height="5" fill="#fff"/>
<rect x="683.36" y="447" width="4.45" height="5.7" fill="#fff"/>
<rect x="684.96" y="441" width="1.2" height="5" fill="#fff"/>
<rect x="689.24" y="447" width="4.45" height="5.7" fill="#fff"/>
<rect x="690.84" y="441" width="1.6" height="5" fill="#fff"/>
<rect x="695.12" y="447" width="4.45" height="5.7" fill="#fff"/>
<rect x="696.73" y="441" width="1.2" height="6" fill="#fff"/>
<rect x="701.01" y="447" width="4.45" height="5.7" fill="#fff"/>
<rect x="702.61" y="441" width="1.2" height="5" fill="#fff"/>
<rect x="706.89" y="447" width="4.45" height="5.7" fill="#fff"/>
<rect x="708.50" y="441" width="1.6" height="5" fill="#fff"/>
<rect x="712.78" y="447" width="4.45" height="5.7" fill="#fff"/>
<rect x="714.38" y="441" width="1.2" height="5" fill="#fff"/>
<rect x="724" y="444" width="10.5" height="10.5" fill="#000" class="c"/>
<rect x="725" y="445" width="9.5" height="8.5" fill="#fff" class="c"/>
<rect x="727" y="440" width="7.5" height="7" fill="#000" class="c"/>
<rect x="728" y="441" width="6.5" height="5" fill="#fff" class="c"/>
<rect x="731.5" y="446" width="3" height="1" fill="#fff" class="c"/>
<rect x="730.5" y="441.5" width="3.5" height="1.5" fill="#000" class="c"/>
<rect x="730.5" y="441.5" width="1.2" height="5" fill="#000" class="c"/>
<rect x="734" y="439" width="3.7" height="16" fill="#000" class="c"/>
<rect x="733" y="453.5" width="2" height="1.5" fill="#000" class="c"/>
<rect x="737" y="445" width="10" height="1.2" fill="#000" class="c"/>
<rect x="737" y="452.4" width="10" height="1" fill="#000" class="c"/>
<rect x="520" y="458" width="227" height="19" fill="#000" class="c"/>
<rect x="521" y="459" width="225" height="17" fill="#fff" class="c"/>
<rect x="520" y="465" width="7" height="1" fill="#000" class="c"/>
<rect x="520" y="471" width="7" height="1" fill="#000" class="c"/>
<rect x="527" y="459" width="4" height="16" fill="#000" class="c"/>
<rect x="531" y="464" width="11" height="10.5" fill="#000" class="c"/>
<rect x="531" y="465" width="10" height="8.5" fill="#fff" class="c"/>
<rect x="531" y="460" width="8" height="7" fill="#000" class="c"/>
<rect x="531" y="461" width="7" height="5" fill="#fff" class="c"/>
<rect x="531" y="466" width="3" height="1" fill="#fff" class="c"/>
<rect x="531" y="461.5" width="3.5" height="1.5" fill="#000" class="c"/>
<rect x="533.3" y="461.5" width="1.2" height="5" fill="#000" class="c"/>
<rect x="530" y="473" width="2" height="2" fill="#000" class="c"/>
<rect x="546" y="460" width="174.5" height="14" fill="#000" class="c"/>
<rect x="545" y="462" width="1" height="11" fill="#000" class="c"/>
<rect x="548.00" y="467" width="4.45" height="5.7" fill="#fff"/>
<rect x="549.60" y="461" width="1.6" height="6" fill="#fff"/>
<rect x="553.88" y="467" width="4.45" height="5.7" fill="#fff"/>
<rect x="555.49" y="461" width="1.2" height="5" fill="#fff"/>
<rect x="559.77" y="467" width="4.45" height="5.7" fill="#fff"/>
<rect x="561.37" y="461" width="1.2" height="5" fill="#fff"/>
<rect x="565.65" y="467" width="4.45" height="5.7" fill="#fff"/>
<rect x="567.25" y="461" width="1.6" height="5" fill="#fff"/>
<rect x="571.54" y="467" width="4.45" height="5.7" fill="#fff"/>
<rect x="573.14" y="461" width="1.2" height="5" fill="#fff"/>
<rect x="577.42" y="467" width="4.45" height="5.7" fill="#fff"/>
<rect x="579.02" y="461" width="1.2" height="6" fill="#fff"/>
<rect x="583.31" y="467" width="4.45" height="5.7" fill="#fff"/>
<rect x="584.91" y="461" width="1.6" height="5" fill="#fff"/>
<rect x="589.20" y="467" width="4.45" height="5.7" fill="#fff"/>
<rect x="590.80" y="461" width="1.2" height="5" fill="#fff"/>
<rect x="595.08" y="467" width="4.45" height="5.7" fill="#fff"/>
<rect x="596.68" y="461" width="1.2" height="5" fill="#fff"/>
<rect x="600.97" y="467" width="4.45" height="5.7" fill="#fff"/>
<rect x="602.57" y="461" width="1.6" height="5" fill="#fff"/>
<rect x="606.85" y="467" width="4.45" height="5.7" fill="#fff"/>
<rect x="608.45" y="461" width="1.2" height="6" fill="#fff"/>
<rect x="612.74" y="467" width="4.45" height="5.7" fill="#fff"/>
<rect x="614.34" y="461" width="1.2" height="5" fill="#fff"/>
<rect x="618.62" y="467" width="4.45" height="5.7" fill="#fff"/>
<rect x="620.22" y="461" width="1.6" height="5" fill="#fff"/>
<rect x="624.50" y="467" width="4.45" height="5.7" fill="#fff"/>
<rect x="626.11" y="461" width="1.2" height="5" fill="#fff"/>
<rect x="630.39" y="467" width="4.45" height="5.7" fill="#fff"/>
<rect x="631.99" y="461" width="1.2" height="5" fill="#fff"/>
<rect x="636.27" y="467" width="4.45" height="5.7" fill="#fff"/>
<rect x="637.88" y="461" width="1.6" height="6" fill="#fff"/>
<rect x="642.16" y="467" width="4.45" height="5.7" fill="#fff"/>
<rect x="643.76" y="461" width="1.2" height="5" fill="#fff"/>
<rect x="648.04" y="467" width="4.45" height="5.7" fill="#fff"/>
<rect x="649.64" y="461" width="1.2" height="5" fill="#fff"/>
<rect x="653.93" y="467" width="4.45" height="5.7" fill="#fff"/>
<rect x="655.53" y="461" width="1.6" height="5" fill="#fff"/>
<rect x="659.82" y="467" width="4.45" height="5.7" fill="#fff"/>
<rect x="661.42" y="461" width="1.2" height="5" fill="#fff"/>
<rect x="665.70" y="467" width="4.45" height="5.7" fill="#fff"/>
<rect x="667.30" y="461" width="1.2" height="6" fill="#fff"/>
<rect x="671.59" y="467" width="4.45" height="5.7" fill="#fff"/>
<rect x="673.19" y="461" width="1.6" height="5" fill="#fff"/>
<rect x="677.47" y="467" width="4.45" height="5.7" fill="#fff"/>
<rect x="679.07" y="461" width="1.2" height="5" fill="#fff"/>
<rect x="683.36" y="467" width="4.45" height="5.7" fill="#fff"/>
<rect x="684.96" y="461" width="1.2" height="5" fill="#fff"/>
<rect x="689.24" y="467" width="4.45" height="5.7" fill="#fff"/>
<rect x="690.84" y="461" width="1.6" height="5" fill="#fff"/>
<rect x="695.12" y="467" width="4.45" height="5.7" fill="#fff"/>
<rect x="696.73" y="461" width="1.2" height="6" fill="#fff"/>
<rect x="701.01" y="467" width="4.45" height="5.7" fill="#fff"/>
<rect x="702.61" y="461" width="1.2" height="5" fill="#fff"/>
<rect x="706.89" y="467" width="4.45" height="5.7" fill="#fff"/>
<rect x="708.50" y="461" width="1.6" height="5" fill="#fff"/>
<rect x="712.78" y="467" width="4.45" height="5.7" fill="#fff"/>
<rect x="714.38" y="461" width="1.2" height="5" fill="#fff"/>
<rect x="724" y="464" width="10.5" height="10.5" fill="#000" class="c"/>
<rect x="725" y="465" width="9.5" height="8.5" fill="#fff" class="c"/>
<rect x="727" y="460" width="7.5" height="7" fill="#000" class="c"/>
<rect x="728" y="461" width="6.5" height="5" fill="#fff" class="c"/>
<rect x="731.5" y="466" width="3" height="1" fill="#fff" class="c"/>
<rect x="730.5" y="461.5" width="3.5" height="1.5" fill="#000" class="c"/>
<rect x="730.5" y="461.5" width="1.2" height="5" fill="#000" class="c"/>
<rect x="734" y="459" width="3.7" height="16" fill="#000" class="c"/>
<rect x="733" y="473.5" width="2" height="1.5" fill="#000" class="c"/>
<rect x="737" y="465" width="10" height="1.2" fill="#000" class="c"/>
<rect x="737" y="472.4" width="10" height="1" fill="#000" class="c"/>
<rect x="520" y="478" width="227" height="19" fill="#000" class="c"/>
<rect x="521" y="479" width="225" height="17" fill="#fff" class="c"/>
<rect x="520" y="485" width="7" height="1" fill="#000" class="c"/>
<rect x="520" y="491" width="7" height="1" fill="#000" class="c"/>
<rect x="527" y="479" width="4" height="16" fill="#000" class="c"/>
<rect x="531" y="484" width="11" height="10.5" fill="#000" class="c"/>
<rect x="531" y="485" width="10" height="8.5" fill="#fff" class="c"/>
<rect x="531" y="480" width="8" height="7" fill="#000" class="c"/>
<rect x="531" y="481" width="7" height="5" fill="#fff" class="c"/>
<rect x="531" y="486" width="3" height="1" fill="#fff" class="c"/>
<rect x="531" y="481.5" width="3.5" height="1.5" fill="#000" class="c"/>
<rect x="533.3" y="481.5" width="1.2" height="5" fill="#000" class="c"/>
<rect x="530" y="493" width="2" height="2" fill="#000" class="c"/>
<rect x="546" y="480" width="174.5" height="14" fill="#000" class="c"/>
<rect x="545" y="482" width="1" height="11" fill="#000" class="c"/>
<rect x="548.00" y="487" width="4.45" height="5.7" fill="#fff"/>
<rect x="549.60" y="481" width="1.6" height="6" fill="#fff"/>
<rect x="553.88" y="487" width="4.45" height="5.7" fill="#fff"/>
<rect x="555.49" y="481" width="1.2" height="5" fill="#fff"/>
<rect x="559.77" y="487" width="4.45" height="5.7" fill="#fff"/>
<rect x="561.37" y="481" width="1.2" height="5" fill="#fff"/>
<rect x="565.65" y="487" width="4.45" height="5.7" fill="#fff"/>
<rect x="567.25" y="481" width="1.6" height="5" fill="#fff"/>
<rect x="571.54" y="487" width="4.45" height="5.7" fill="#fff"/>
<rect x="573.14" y="481" width="1.2" height="5" fill="#fff"/>
<rect x="577.42" y="487" width="4.45" height="5.7" fill="#fff"/>
<rect x="579.02" y="481" width="1.2" height="6" fill="#fff"/>
<rect x="583.31" y="487" width="4.45" height="5.7" fill="#fff"/>
<rect x="584.91" y="481" width="1.6" height="5" fill="#fff"/>
<rect x="589.20" y="487" width="4.45" height="5.7" fill="#fff"/>
<rect x="590.80" y="481" width="1.2" height="5" fill="#fff"/>
<rect x="595.08" y="487" width="4.45" height="5.7" fill="#fff"/>
<rect x="596.68" y="481" width="1.2" height="5" fill="#fff"/>
<rect x="600.97" y="487" width="4.45" height="5.7" fill="#fff"/>
<rect x="602.57" y="481" width="1.6" height="5" fill="#fff"/>
<rect x="606.85" y="487" width="4.45" height="5.7" fill="#fff"/>
<rect x="608.45" y="481" width="1.2" height="6" fill="#fff"/>
<rect x="612.74" y="487" width="4.45" height="5.7" fill="#fff"/>
<rect x="614.34" y="481" width="1.2" height="5" fill="#fff"/>
<rect x="618.62" y="487" width="4.45" height="5.7" fill="#fff"/>
<rect x="620.22" y="481" width="1.6" height="5" fill="#fff"/>
<rect x="624.50" y="487" width="4.45" height="5.7" fill="#fff"/>
<rect x="626.11" y="481" width="1.2" height="5" fill="#fff"/>
<rect x="630.39" y="487" width="4.45" height="5.7" fill="#fff"/>
<rect x="631.99" y="481" width="1.2" height="5" fill="#fff"/>
<rect x="636.27" y="487" width="4.45" height="5.7" fill="#fff"/>
<rect x="637.88" y="481" width="1.6" height="6" fill="#fff"/>
<rect x="642.16" y="487" width="4.45" height="5.7" fill="#fff"/>
<rect x="643.76" y="481" width="1.2" height="5" fill="#fff"/>
<rect x="648.04" y="487" width="4.45" height="5.7" fill="#fff"/>
<rect x="649.64" y="481" width="1.2" height="5" fill="#fff"/>
<rect x="653.93" y="487" width="4.45" height="5.7" fill="#fff"/>
<rect x="655.53" y="481" width="1.6" height="5" fill="#fff"/>
<rect x="659.82" y="487" width="4.45" height="5.7" fill="#fff"/>
<rect x="661.42" y="481" width="1.2" height="5" fill="#fff"/>
<rect x="665.70" y="487" width="4.45" height="5.7" fill="#fff"/>
<rect x="667.30" y="481" width="1.2" height="6" fill="#fff"/>
<rect x="671.59" y="487" width="4.45" height="5.7" fill="#fff"/>
<rect x="673.19" y="481" width="1.6" height="5" fill="#fff"/>
<rect x="677.47" y="487" width="4.45" height="5.7" fill="#fff"/>
<rect x="679.07" y="481" width="1.2" height="5" fill="#fff"/>
<rect x="683.36" y="487" width="4.45" height="5.7" fill="#fff"/>
<rect x="684.96" y="481" width="1.2" height="5" fill="#fff"/>
<rect x="689.24" y="487" width="4.45" height="5.7" fill="#fff"/>
<rect x="690.84" y="481" width="1.6" height="5" fill="#fff"/>
<rect x="695.12" y="487" width="4.45" height="5.7" fill="#fff"/>
<rect x="696.73" y="481" width="1.2" height="6" fill="#fff"/>
<rect x="701.01" y="487" width="4.45" height="5.7" fill="#fff"/>
<rect x="702.61" y="481" width="1.2" height="5" fill="#fff"/>
<rect x="706.89" y="487" width="4.45" height="5.7" fill="#fff"/>
<rect x="708.50" y="481" width="1.6" height="5" fill="#fff"/>
<rect x="712.78" y="487" width="4.45" height="5.7" fill="#fff"/>
<rect x="714.38" y="481" width="1.2" height="5" fill="#fff"/>
<rect x="724" y="484" width="10.5" height="10.5" fill="#000" class="c"/>
<rect x="725" y="485" width="9.5" height="8.5" fill="#fff" class="c"/>
<rect x="727" y="480" width="7.5" height="7" fill="#000" class="c"/>
<rect x="728" y="481" width="6.5" height="5" fill="#fff" class="c"/>
<rect x="731.5" y="486" width="3" height="1" fill="#fff" class="c"/>
<rect x="730.5" y="481.5" width="3.5" height="1.5" fill="#000" class="c"/>
<rect x="730.5" y="481.5" width="1.2" height="5" fill="#000" class="c"/>
<rect x="734" y="479" width="3.7" height="16" fill="#000" class="c"/>
<rect x="733" y="493.5" width="2" height="1.5" fill="#000" class="c"/>
<rect x="737" y="485" width="10" height="1.2" fill="#000" class="c"/>
<rect x="737" y="492.4" width="10" height="1" fill="#000" class="c"/>
<rect x="520" y="498" width="227" height="19" fill="#000" class="c"/>
<rect x="521" y="499" width="225" height="17" fill="#fff" class="c"/>
<rect x="520" y="505" width="7" height="1" fill="#000" class="c"/>
<rect x="520" y="511" width="7" height="1" fill="#000" class="c"/>
<rect x="527" y="499" width="4" height="16" fill="#000" class="c"/>
<rect x="531" y="504" width="11" height="10.5" fill="#000" class="c"/>
<rect x="531" y="505" width="10" height="8.5" fill="#fff" class="c"/>
<rect x="531" y="500" width="8" height="7" fill="#000" class="c"/>
<rect x="531" y="501" width="7" height="5" fill="#fff" class="c"/>
<rect x="531" y="506" width="3" height="1" fill="#fff" class="c"/>
<rect x="531" y="501.5" width="3.5" height="1.5" fill="#000" class="c"/>
<rect x="533.3" y="501.5" width="1.2" height="5" fill="#000" class="c"/>
<rect x="530" y="513" width="2" height="2" fill="#000" class="c"/>
<rect x="546" y="500" width="174.5" height="14" fill="#000" class="c"/>
<rect x="545" y="502" width="1" height="11" fill="#000" class="c"/>
<rect x="548.00" y="507" width="4.45" height="5.7" fill="#fff"/>
<rect x="549.60" y="501" width="1.6" height="6" fill="#fff"/>
<rect x="553.88" y="507" width="4.45" height="5.7" fill="#fff"/>
<rect x="555.49" y="501" width="1.2" height="5" fill="#fff"/>
<rect x="559.77" y="507" width="4.45" height="5.7" fill="#fff"/>
<rect x="561.37" y="501" width="1.2" height="5" fill="#fff"/>
<rect x="565.65" y="507" width="4.45" height="5.7" fill="#fff"/>
<rect x="567.25" y="501" width="1.6" height="5" fill="#fff"/>
<rect x="571.54" y="507" width="4.45" height="5.7" fill="#fff"/>
<rect x="573.14" y="501" width="1.2" height="5" fill="#fff"/>
<rect x="577.42" y="507" width="4.45" height="5.7" fill="#fff"/>
<rect x="579.02" y="501" width="1.2" height="6" fill="#fff"/>
<rect x="583.31" y="507" width="4.45" height="5.7" fill="#fff"/>
<rect x="584.91" y="501" width="1.6" height="5" fill="#fff"/>
<rect x="589.20" y="507" width="4.45" height="5.7" fill="#fff"/>
<rect x="590.80" y="501" width="1.2" height="5" fill="#fff"/>
<rect x="595.08" y="507" width="4.45" height="5.7" fill="#fff"/>
<rect x="596.68" y="501" width="1.2" height="5" fill="#fff"/>
<rect x="600.97" y="507" width="4.45" height="5.7" fill="#fff"/>
<rect x="602.57" y="501" width="1.6" height="5" fill="#fff"/>
<rect x="606.85" y="507" width="4.45" height="5.7" fill="#fff"/>
<rect x="608.45" y="501" width="1.2" height="6" fill="#fff"/>
<rect x="612.74" y="507" width="4.45" height="5.7" fill="#fff"/>
<rect x="614.34" y="501" width="1.2" height="5" fill="#fff"/>
<rect x="618.62" y="507" width="4.45" height="5.7" fill="#fff"/>
<rect x="620.22" y="501" width="1.6" height="5" fill="#fff"/>
<rect x="624.50" y="507" width="4.45" height="5.7" fill="#fff"/>
<rect x="626.11" y="501" width="1.2" height="5" fill="#fff"/>
<rect x="630.39" y="507" width="4.45" height="5.7" fill="#fff"/>
<rect x="631.99" y="501" width="1.2" height="5" fill="#fff"/>
<rect x="636.27" y="507" width="4.45" height="5.7" fill="#fff"/>
<rect x="637.88" y="501" width="1.6" height="6" fill="#fff"/>
<rect x="642.16" y="507" width="4.45" height="5.7" fill="#fff"/>
<rect x="643.76" y="501" width="1.2" height="5" fill="#fff"/>
<rect x="648.04" y="507" width="4.45" height="5.7" fill="#fff"/>
<rect x="649.64" y="501" width="1.2" height="5" fill="#fff"/>
<rect x="653.93" y="507" width="4.45" height="5.7" fill="#fff"/>
<rect x="655.53" y="501" width="1.6" height="5" fill="#fff"/>
<rect x="659.82" y="507" width="4.45" height="5.7" fill="#fff"/>
<rect x="661.42" y="501" width="1.2" height="5" fill="#fff"/>
<rect x="665.70" y="507" width="4.45" height="5.7" fill="#fff"/>
<rect x="667.30" y="501" width="1.2" height="6" fill="#fff"/>
<rect x="671.59" y="507" width="4.45" height="5.7" fill="#fff"/>
<rect x="673.19" y="501" width="1.6" height="5" fill="#fff"/>
<rect x="677.47" y="507" width="4.45" height="5.7" fill="#fff"/>
<rect x="679.07" y="501" width="1.2" height="5" fill="#fff"/>
<rect x="683.36" y="507" width="4.45" height="5.7" fill="#fff"/>
<rect x="684.96" y="501" width="1.2" height="5" fill="#fff"/>
<rect x="689.24" y="507" width="4.45" height="5.7" fill="#fff"/>
<rect x="690.84" y="501" width="1.6" height="5" fill="#fff"/>
<rect x="695.12" y="507" width="4.45" height="5.7" fill="#fff"/>
<rect x="696.73" y="501" width="1.2" height="6" fill="#fff"/>
<rect x="701.01" y="507" width="4.45" height="5.7" fill="#fff"/>
<rect x="702.61" y="501" width="1.2" height="5" fill="#fff"/>
<rect x="706.89" y="507" width="4.45" height="5.7" fill="#fff"/>
<rect x="708.50" y="501" width="1.6" height="5" fill="#fff"/>
<rect x="712.78" y="507" width="4.45" height="5.7" fill="#fff"/>
<rect x="714.38" y="501" width="1.2" height="5" fill="#fff"/>
<rect x="724" y="504" width="10.5" height="10.5" fill="#000" class="c"/>
<rect x="725" y="505" width="9.5" height="8.5" fill="#fff" class="c"/>
<rect x="727" y="500" width="7.5" height="7" fill="#000" class="c"/>
<rect x="728" y="501" width="6.5" height="5" fill="#fff" class="c"/>
<rect x="731.5" y="506" width="3" height="1" fill="#fff" class="c"/>
<rect x="730.5" y="501.5" width="3.5" height="1.5" fill="#000" class="c"/>
<rect x="730.5" y="501.5" width="1.2" height="5" fill="#000" class="c"/>
<rect x="734" y="499" width="3.7" height="16" fill="#000" class="c"/>
<rect x="733" y="513.5" width="2" height="1.5" fill="#000" class="c"/>
<rect x="737" y="505" width="10" height="1.2" fill="#000" class="c"/>
<rect x="737" y="512.4" width="10" height="1" fill="#000" class="c"/>
<rect x="603" y="389" width="60" height="17" fill="#000" class="c"/>
<rect x="605" y="390" width="55" height="13.5" fill="#fff" class="c"/>
<text transform="translate(632.5,401.2) scale(0.75,1)" x="1.3" y="0" text-anchor="middle" font-size="13.6" letter-spacing="2.6" fill="#000" stroke="#000" stroke-width="0.12" font-weight="normal">BANK 0</text>
<rect x="603" y="469" width="60" height="17" fill="#000" class="c"/>
<rect x="605" y="470" width="55" height="13.5" fill="#fff" class="c"/>
<text transform="translate(632.5,481.2) scale(0.75,1)" x="1.3" y="0" text-anchor="middle" font-size="13.6" letter-spacing="2.6" fill="#000" stroke="#000" stroke-width="0.12" font-weight="normal">BANK 1</text>
<rect x="757" y="406" width="24" height="113" fill="#000" class="c"/>
<rect x="758" y="407" width="22" height="111" fill="#fff" class="c"/>
<rect x="771" y="407" width="1" height="111" fill="#000" class="c"/>
<rect x="760" y="412" width="7" height="7" fill="#000" class="c"/>
<rect x="761" y="413" width="5" height="5" fill="#fff" class="c"/>
<rect x="760" y="422" width="7" height="7" fill="#000" class="c"/>
<rect x="761" y="423" width="5" height="5" fill="#fff" class="c"/>
<rect x="760" y="431" width="7" height="7" fill="#000" class="c"/>
<rect x="761" y="432" width="5" height="5" fill="#fff" class="c"/>
<rect x="760" y="441" width="7" height="7" fill="#000" class="c"/>
<rect x="761" y="442" width="5" height="5" fill="#fff" class="c"/>
<rect x="760" y="450" width="7" height="7" fill="#000" class="c"/>
<rect x="761" y="451" width="5" height="5" fill="#fff" class="c"/>
<rect x="760" y="459" width="7" height="7" fill="#000" class="c"/>
<rect x="761" y="460" width="5" height="5" fill="#fff" class="c"/>
<rect x="760" y="469" width="7" height="7" fill="#000" class="c"/>
<rect x="761" y="470" width="5" height="5" fill="#fff" class="c"/>
<rect x="760" y="478" width="7" height="7" fill="#000" class="c"/>
<rect x="761" y="479" width="5" height="5" fill="#fff" class="c"/>
<rect x="760" y="488" width="7" height="7" fill="#000" class="c"/>
<rect x="761" y="489" width="5" height="5" fill="#fff" class="c"/>
<rect x="760" y="497" width="7" height="7" fill="#000" class="c"/>
<rect x="761" y="498" width="5" height="5" fill="#fff" class="c"/>
<rect x="760" y="506" width="7" height="7" fill="#000" class="c"/>
<rect x="761" y="507" width="5" height="5" fill="#fff" class="c"/>
<rect x="768" y="408" width="3" height="6" fill="#000" class="c"/>
<rect x="769" y="409" width="1" height="4" fill="#fff" class="c"/>
<rect x="773" y="408" width="5" height="5" fill="#000" class="c"/>
<rect x="774" y="413" width="3" height="2" fill="#000" class="c"/>
<rect x="768" y="417" width="3" height="6" fill="#000" class="c"/>
<rect x="769" y="418" width="1" height="4" fill="#fff" class="c"/>
<rect x="773" y="417" width="5" height="5" fill="#000" class="c"/>
<rect x="774" y="422" width="3" height="2" fill="#000" class="c"/>
<rect x="768" y="427" width="3" height="6" fill="#000" class="c"/>
<rect x="769" y="428" width="1" height="4" fill="#fff" class="c"/>
<rect x="773" y="427" width="5" height="5" fill="#000" class="c"/>
<rect x="774" y="432" width="3" height="2" fill="#000" class="c"/>
<rect x="768" y="436" width="3" height="6" fill="#000" class="c"/>
<rect x="769" y="437" width="1" height="4" fill="#fff" class="c"/>
<rect x="773" y="436" width="5" height="5" fill="#000" class="c"/>
<rect x="774" y="441" width="3" height="2" fill="#000" class="c"/>
<rect x="768" y="445" width="3" height="6" fill="#000" class="c"/>
<rect x="769" y="446" width="1" height="4" fill="#fff" class="c"/>
<rect x="773" y="445" width="5" height="5" fill="#000" class="c"/>
<rect x="774" y="450" width="3" height="2" fill="#000" class="c"/>
<rect x="768" y="455" width="3" height="6" fill="#000" class="c"/>
<rect x="769" y="456" width="1" height="4" fill="#fff" class="c"/>
<rect x="773" y="455" width="5" height="5" fill="#000" class="c"/>
<rect x="774" y="460" width="3" height="2" fill="#000" class="c"/>
<rect x="768" y="464" width="3" height="6" fill="#000" class="c"/>
<rect x="769" y="465" width="1" height="4" fill="#fff" class="c"/>
<rect x="773" y="464" width="5" height="5" fill="#000" class="c"/>
<rect x="774" y="469" width="3" height="2" fill="#000" class="c"/>
<rect x="768" y="473" width="3" height="6" fill="#000" class="c"/>
<rect x="769" y="474" width="1" height="4" fill="#fff" class="c"/>
<rect x="773" y="473" width="5" height="5" fill="#000" class="c"/>
<rect x="774" y="478" width="3" height="2" fill="#000" class="c"/>
<rect x="768" y="483" width="3" height="6" fill="#000" class="c"/>
<rect x="769" y="484" width="1" height="4" fill="#fff" class="c"/>
<rect x="773" y="483" width="5" height="5" fill="#000" class="c"/>
<rect x="774" y="488" width="3" height="2" fill="#000" class="c"/>
<rect x="768" y="492" width="3" height="6" fill="#000" class="c"/>
<rect x="769" y="493" width="1" height="4" fill="#fff" class="c"/>
<rect x="773" y="492" width="5" height="5" fill="#000" class="c"/>
<rect x="774" y="497" width="3" height="2" fill="#000" class="c"/>
<rect x="768" y="502" width="3" height="6" fill="#000" class="c"/>
<rect x="769" y="503" width="1" height="4" fill="#fff" class="c"/>
<rect x="773" y="502" width="5" height="5" fill="#000" class="c"/>
<rect x="774" y="507" width="3" height="2" fill="#000" class="c"/>
<rect x="768" y="511" width="3" height="6" fill="#000" class="c"/>
<rect x="769" y="512" width="1" height="4" fill="#fff" class="c"/>
<rect x="773" y="511" width="5" height="5" fill="#000" class="c"/>
<rect x="774" y="516" width="3" height="2" fill="#000" class="c"/>
<rect x="761" y="407" width="1" height="3" fill="#000" class="c"/>
<rect x="766" y="407" width="1" height="3" fill="#000" class="c"/>
<rect x="761" y="409" width="6" height="1" fill="#000" class="c"/>
<rect x="761" y="516" width="1" height="3" fill="#000" class="c"/>
<rect x="766" y="516" width="1" height="3" fill="#000" class="c"/>
<rect x="761" y="515" width="6" height="1" fill="#000" class="c"/>
<polygon points="813,446 837,446 837,441.5 840,441.5 840,439 843,439 843,490 840,490 840,486.5 837,486.5 837,482.5 813,482.5" fill="#000" />
<rect x="806" y="454" width="8" height="9" fill="#000" class="c"/>
<rect x="807" y="455" width="6" height="7" fill="#fff" class="c"/>
<rect x="813" y="456" width="2" height="1" fill="#fff" class="c"/>
<rect x="813" y="458" width="2" height="1" fill="#fff" class="c"/>
<rect x="813" y="460" width="2" height="1" fill="#fff" class="c"/>
<rect x="806" y="466" width="8" height="9" fill="#000" class="c"/>
<rect x="807" y="467" width="6" height="7" fill="#fff" class="c"/>
<rect x="813" y="468" width="2" height="1" fill="#fff" class="c"/>
<rect x="813" y="470" width="2" height="1" fill="#fff" class="c"/>
<rect x="813" y="472" width="2" height="1" fill="#fff" class="c"/>
<rect x="65" y="49" width="7" height="30.5" fill="#000" class="c"/>
<rect x="68.5" y="50.2" width="2.5" height="28" fill="#fff" class="c"/>
<rect x="68" y="55.3" width="3.5" height="1.2" fill="#000" class="c"/>
<rect x="68" y="60.9" width="3.5" height="1.2" fill="#000" class="c"/>
<rect x="68" y="66.5" width="3.5" height="1.2" fill="#000" class="c"/>
<rect x="68" y="72.1" width="3.5" height="1.2" fill="#000" class="c"/>
<rect x="65" y="95" width="7" height="13.5" fill="#000" class="c"/>
<rect x="68.5" y="96.2" width="2.5" height="11.1" fill="#fff" class="c"/>
<rect x="68" y="101.15" width="3.5" height="1.2" fill="#000" class="c"/>
<rect x="65" y="116" width="7" height="13.5" fill="#000" class="c"/>
<rect x="68.5" y="117.2" width="2.5" height="11.1" fill="#fff" class="c"/>
<rect x="68" y="122.15" width="3.5" height="1.2" fill="#000" class="c"/>
<rect x="65" y="137" width="7" height="13.5" fill="#000" class="c"/>
<rect x="68.5" y="138.2" width="2.5" height="11.1" fill="#fff" class="c"/>
<rect x="68" y="143.15" width="3.5" height="1.2" fill="#000" class="c"/>
<rect x="65" y="160" width="7" height="13.5" fill="#000" class="c"/>
<rect x="68.5" y="161.2" width="2.5" height="11.1" fill="#fff" class="c"/>
<rect x="68" y="166.15" width="3.5" height="1.2" fill="#000" class="c"/>
<rect x="191" y="155" width="7" height="13.5" fill="#000" class="c"/>
<rect x="194.5" y="156.2" width="2.5" height="11.1" fill="#fff" class="c"/>
<rect x="194" y="161.15" width="3.5" height="1.2" fill="#000" class="c"/>
<rect x="206" y="155" width="6.5" height="18.7" fill="#000" class="c"/>
<rect x="207.2" y="158.2" width="4.9" height="1.4" fill="#fff" class="c"/>
<rect x="207.2" y="162.6" width="4.9" height="1.4" fill="#fff" class="c"/>
<rect x="207.2" y="167" width="4.9" height="1.4" fill="#fff" class="c"/>
<rect x="217" y="155" width="6.5" height="18.7" fill="#000" class="c"/>
<rect x="218.2" y="158.2" width="4.9" height="1.4" fill="#fff" class="c"/>
<rect x="218.2" y="162.6" width="4.9" height="1.4" fill="#fff" class="c"/>
<rect x="218.2" y="167" width="4.9" height="1.4" fill="#fff" class="c"/>
<rect x="228.5" y="155" width="6.5" height="18.7" fill="#000" class="c"/>
<rect x="229.7" y="158.2" width="4.9" height="1.4" fill="#fff" class="c"/>
<rect x="229.7" y="162.6" width="4.9" height="1.4" fill="#fff" class="c"/>
<rect x="229.7" y="167" width="4.9" height="1.4" fill="#fff" class="c"/>
<rect x="240.5" y="155" width="6.5" height="18.7" fill="#000" class="c"/>
<rect x="244.5" y="156.2" width="1.5" height="16.3" fill="#fff" class="c"/>
<rect x="241.5" y="158" width="3" height="1.3" fill="#fff" class="c"/>
<rect x="241.5" y="162.5" width="3" height="1.3" fill="#fff" class="c"/>
<rect x="241.5" y="167" width="3" height="1.3" fill="#fff" class="c"/>
<rect x="71" y="287" width="7" height="13.7" fill="#000" class="c"/>
<rect x="73.2" y="288.5" width="3.8" height="10.7" fill="#fff" class="c"/>
<rect x="73" y="293.05" width="4.4" height="1.6" fill="#000" class="c"/>
<rect x="92" y="287" width="6.5" height="18.7" fill="#000" class="c"/>
<rect x="93.2" y="290.2" width="4.9" height="1.4" fill="#fff" class="c"/>
<rect x="93.2" y="294.6" width="4.9" height="1.4" fill="#fff" class="c"/>
<rect x="93.2" y="299" width="4.9" height="1.4" fill="#fff" class="c"/>
<rect x="103" y="287" width="7" height="18.6" fill="#000" class="c"/>
<rect x="106.6" y="288.3" width="2.5" height="12.2" fill="#fff" class="c"/>
<rect x="106" y="291.8" width="3.5" height="1" fill="#000" class="c"/>
<rect x="106" y="296.2" width="3.5" height="1" fill="#000" class="c"/>
<rect x="104.3" y="291" width="1.8" height="1.1" fill="#fff" class="c"/>
<rect x="104.3" y="299.5" width="1.8" height="1.1" fill="#fff" class="c"/>
<rect x="367" y="56" width="7.5" height="13" fill="#000" class="c"/>
<rect x="372" y="57.3" width="1.3" height="10.4" fill="#fff" class="c"/>
<rect x="368.5" y="61.8" width="4" height="1.2" fill="#fff" class="c"/>
<rect x="265" y="68" width="13" height="6.7" fill="#000" class="c"/>
<rect x="270.5" y="69.5" width="2" height="3.7" fill="#fff" class="c"/>
<rect x="209" y="80.4" width="19" height="6.2" fill="#000" class="c"/>
<rect x="214.4" y="82" width="1.4" height="3.2" fill="#fff" class="c"/>
<rect x="220" y="82" width="1.4" height="3.2" fill="#fff" class="c"/>
<rect x="225" y="82" width="1.4" height="3.2" fill="#fff" class="c"/>
<rect x="369" y="144.2" width="19" height="6.6" fill="#000" class="c"/>
<rect x="370.2" y="145.4" width="16.8" height="1.2" fill="#fff" class="c"/>
<rect x="377.8" y="145.4" width="1.3" height="4.2" fill="#fff" class="c"/>
<rect x="383.2" y="145.4" width="1.3" height="4.2" fill="#fff" class="c"/>
<rect x="168" y="480" width="19" height="7" fill="#000" class="c"/>
<rect x="170" y="481.6" width="1.8" height="4" fill="#fff" class="c"/>
<rect x="175.667" y="481.6" width="1.8" height="4" fill="#fff" class="c"/>
<rect x="181.333" y="481.6" width="1.8" height="4" fill="#fff" class="c"/>
<rect x="168" y="490" width="19" height="6.8" fill="#000" class="c"/>
<rect x="169.2" y="491.2" width="16.8" height="1.2" fill="#fff" class="c"/>
<rect x="169.6" y="491.2" width="1.3" height="4.4" fill="#fff" class="c"/>
<rect x="175.8" y="491.2" width="1.3" height="4.4" fill="#fff" class="c"/>
<rect x="181.8" y="491.2" width="1.3" height="4.4" fill="#fff" class="c"/>
<rect x="168" y="501" width="19" height="7" fill="#000" class="c"/>
<rect x="170" y="502.6" width="1.8" height="4" fill="#fff" class="c"/>
<rect x="175.667" y="502.6" width="1.8" height="4" fill="#fff" class="c"/>
<rect x="181.333" y="502.6" width="1.8" height="4" fill="#fff" class="c"/>
<rect x="156.5" y="513" width="30" height="6" fill="#fff" stroke="#000" stroke-width="1"/>
<rect x="158" y="514.5" width="4.4" height="3.5" fill="#000" class="c"/>
<rect x="163.6" y="514.5" width="4.4" height="3.5" fill="#000" class="c"/>
<rect x="169.2" y="514.5" width="4.4" height="3.5" fill="#000" class="c"/>
<rect x="174.8" y="514.5" width="4.4" height="3.5" fill="#000" class="c"/>
<rect x="180.4" y="514.5" width="4.4" height="3.5" fill="#000" class="c"/>
<polygon points="46.7,57.5 51.6,61.6 54,62.8 65,64.0 65,66.0 54,67.2 51.6,68.4 46.7,72.5" fill="#000" />
<rect x="7" y="56" width="42" height="19" rx="3" fill="#000"/>
<rect x="8.9" y="57.9" width="37.8" height="14.7" rx="1.4" fill="#fff"/>
<text transform="translate(26.5,68.8) scale(0.75,1)" x="1.5" y="0" text-anchor="middle" font-size="13.6" letter-spacing="3.0" fill="#000" stroke="#000" stroke-width="0.12" font-weight="normal">JP22</text>
<polygon points="46,61.0 50.0,63.5 55.5,64.55 55.5,65.45 50.0,66.5 46,69.0" fill="#fff" />
<polygon points="46.7,94.5 51.6,98.6 54,99.8 65,101.0 65,103.0 54,104.2 51.6,105.4 46.7,109.5" fill="#000" />
<rect x="7" y="93" width="42" height="18" rx="3" fill="#000"/>
<rect x="8.9" y="94.9" width="37.8" height="13.7" rx="1.4" fill="#fff"/>
<text transform="translate(26.5,105.8) scale(0.75,1)" x="1.5" y="0" text-anchor="middle" font-size="13.6" letter-spacing="3.0" fill="#000" stroke="#000" stroke-width="0.12" font-weight="normal">JP19</text>
<polygon points="46,98.0 50.0,100.5 55.5,101.55 55.5,102.45 50.0,103.5 46,106.0" fill="#fff" />
<polygon points="46.7,115.2 51.6,119.3 54,120.5 65,121.7 65,123.7 54,124.9 51.6,126.10000000000001 46.7,130.2" fill="#000" />
<rect x="7" y="113" width="42" height="19" rx="3" fill="#000"/>
<rect x="8.9" y="114.9" width="37.8" height="14.7" rx="1.4" fill="#fff"/>
<text transform="translate(26.5,125.8) scale(0.75,1)" x="1.5" y="0" text-anchor="middle" font-size="13.6" letter-spacing="3.0" fill="#000" stroke="#000" stroke-width="0.12" font-weight="normal">JP18</text>
<polygon points="46,118.7 50.0,121.2 55.5,122.25 55.5,123.15 50.0,124.2 46,126.7" fill="#fff" />
<polygon points="46.7,136.8 51.6,140.9 54,142.10000000000002 65,143.3 65,145.3 54,146.5 51.6,147.70000000000002 46.7,151.8" fill="#000" />
<rect x="7" y="135" width="42" height="19" rx="3" fill="#000"/>
<rect x="8.9" y="136.9" width="37.8" height="14.7" rx="1.4" fill="#fff"/>
<text transform="translate(26.5,147.79999999999998) scale(0.75,1)" x="1.5" y="0" text-anchor="middle" font-size="13.6" letter-spacing="3.0" fill="#000" stroke="#000" stroke-width="0.12" font-weight="normal">JP17</text>
<polygon points="46,140.3 50.0,142.8 55.5,143.85000000000002 55.5,144.75 50.0,145.8 46,148.3" fill="#fff" />
<polygon points="46.7,159.0 51.6,163.1 54,164.3 65,165.5 65,167.5 54,168.7 51.6,169.9 46.7,174.0" fill="#000" />
<rect x="7" y="157" width="42" height="19" rx="3" fill="#000"/>
<rect x="8.9" y="158.9" width="37.8" height="14.7" rx="1.4" fill="#fff"/>
<text transform="translate(26.5,169.79999999999998) scale(0.75,1)" x="1.5" y="0" text-anchor="middle" font-size="13.6" letter-spacing="3.0" fill="#000" stroke="#000" stroke-width="0.12" font-weight="normal">JP16</text>
<polygon points="46,162.5 50.0,165.0 55.5,166.05 55.5,166.95 50.0,168.0 46,170.5" fill="#fff" />
<polygon points="173.29999999999998,155.0 178.2,159.1 180.6,160.3 192,161.5 192,163.5 180.6,164.7 178.2,165.9 173.29999999999998,170.0" fill="#000" />
<rect x="134.4" y="153.1" width="41.2" height="18.4" rx="3" fill="#000"/>
<rect x="136.3" y="155" width="37.2" height="14" rx="1.4" fill="#fff"/>
<text transform="translate(153.59999999999997,166.1) scale(0.75,1)" x="1.5" y="0" text-anchor="middle" font-size="13.6" letter-spacing="3.0" fill="#000" stroke="#000" stroke-width="0.12" font-weight="normal">JP15</text>
<polygon points="172.6,158.5 176.6,161.0 182.1,162.05 182.1,162.95 176.6,164.0 172.6,166.5" fill="#fff" />
<polygon points="245.7,63.7 250.6,67.8 253,69.0 266,70.2 266,72.2 253,73.4 250.6,74.60000000000001 245.7,78.7" fill="#000" />
<rect x="207.7" y="62" width="40.3" height="18.5" rx="3" fill="#000"/>
<rect x="209.6" y="64.2" width="36" height="14" rx="1.4" fill="#fff"/>
<text transform="translate(226.3,75.6) scale(0.75,1)" x="1.5" y="0" text-anchor="middle" font-size="13.6" letter-spacing="3.0" fill="#000" stroke="#000" stroke-width="0.12" font-weight="normal">JP24</text>
<polygon points="245,67.2 249.0,69.7 254.5,70.75 254.5,71.65 249.0,72.7 245,75.2" fill="#fff" />
<polygon points="352.09999999999997,140.4 357.0,144.5 359.4,145.70000000000002 370.5,146.9 370.5,148.9 359.4,150.1 357.0,151.3 352.09999999999997,155.4" fill="#000" />
<rect x="317.8" y="139" width="36.6" height="18.8" rx="3" fill="#000"/>
<rect x="320.2" y="141.2" width="31.6" height="13.9" rx="1.4" fill="#fff"/>
<text transform="translate(334.69999999999993,151.7) scale(0.75,1)" x="1.5" y="0" text-anchor="middle" font-size="13.6" letter-spacing="3.0" fill="#000" stroke="#000" stroke-width="0.12" font-weight="normal">JP9</text>
<polygon points="351.4,143.9 355.4,146.4 360.9,147.45000000000002 360.9,148.35 355.4,149.4 351.4,151.9" fill="#fff" />
<polygon points="150.89999999999998,496.8 155.79999999999998,500.90000000000003 158.2,502.1 169,503.3 169,505.3 158.2,506.5 155.79999999999998,507.7 150.89999999999998,511.8" fill="#000" />
<rect x="117.2" y="495" width="36" height="18.6" rx="3" fill="#000"/>
<rect x="119.4" y="497.2" width="31.3" height="13.8" rx="1.4" fill="#fff"/>
<text transform="translate(133.75,507.6) scale(0.75,1)" x="1.5" y="0" text-anchor="middle" font-size="13.6" letter-spacing="3.0" fill="#000" stroke="#000" stroke-width="0.12" font-weight="normal">JP2</text>
<polygon points="150.2,500.3 154.2,502.8 159.7,503.85 159.7,504.75 154.2,505.8 150.2,508.3" fill="#fff" />
<polygon points="264.1,157.3 259.2,161.4 256.8,162.60000000000002 246.5,163.8 246.5,165.8 256.8,167.0 259.2,168.20000000000002 264.1,172.3" fill="#000" />
<rect x="261.8" y="155.8" width="42.2" height="18.1" rx="3" fill="#000"/>
<rect x="264.1" y="158.1" width="37.3" height="13.2" rx="1.4" fill="#fff"/>
<text transform="translate(281.45,168.5) scale(0.75,1)" x="1.5" y="0" text-anchor="middle" font-size="13.6" letter-spacing="3.0" fill="#000" stroke="#000" stroke-width="0.12" font-weight="normal">JP10</text>
<polygon points="264.8,160.8 260.8,163.3 255.3,164.35000000000002 255.3,165.25 260.8,166.3 264.8,168.8" fill="#fff" />
<polygon points="127.2,288.8 122.30000000000001,292.90000000000003 119.9,294.1 109.5,295.3 109.5,297.3 119.9,298.5 122.30000000000001,299.7 127.2,303.8" fill="#000" />
<rect x="124.9" y="288.4" width="35.6" height="15.9" rx="3" fill="#000"/>
<rect x="127" y="290.3" width="31.3" height="12.8" rx="1.4" fill="#fff"/>
<text transform="translate(141.35,300.2) scale(0.75,1)" x="1.5" y="0" text-anchor="middle" font-size="13.6" letter-spacing="3.0" fill="#000" stroke="#000" stroke-width="0.12" font-weight="normal">JP5</text>
<polygon points="127.9,292.3 123.9,294.8 118.4,295.85 118.4,296.75 123.9,297.8 127.9,300.3" fill="#fff" />
<polygon points="205.3,508.5 200.4,512.6 198,513.8 187.5,515 187.5,517 198,518.2 200.4,519.4 205.3,523.5" fill="#000" />
<rect x="203" y="507.6" width="35.6" height="16.6" rx="3" fill="#000"/>
<rect x="205.6" y="509.3" width="30.4" height="12.7" rx="1.4" fill="#fff"/>
<text transform="translate(219.49999999999997,519.4000000000001) scale(0.75,1)" x="1.5" y="0" text-anchor="middle" font-size="13.6" letter-spacing="3.0" fill="#000" stroke="#000" stroke-width="0.12" font-weight="normal">JP1</text>
<polygon points="206,512.0 202.0,514.5 196.5,515.55 196.5,516.45 202.0,517.5 206,520.0" fill="#fff" />
<polygon points="202.5,135 206.2,139.5 207.2,156 210.3,156 211.2,139.5 215,135" fill="#000" />
<rect x="187.5" y="118.5" width="42.5" height="18" rx="3" fill="#000"/>
<rect x="189.5" y="121.2" width="38.5" height="13.2" rx="1.4" fill="#fff"/>
<text transform="translate(207.45,131.1) scale(0.75,1)" x="1.5" y="0" text-anchor="middle" font-size="13.6" letter-spacing="3.0" fill="#000" stroke="#000" stroke-width="0.12" font-weight="normal">JP13</text>
<polygon points="205.8,134 207.8,138.8 208.6,142 209,142 209.6,138.8 211.6,134" fill="#fff" />
<polygon points="230.3,140 232,147.2 222.5,156.5 218.5,156.5 218.5,155 229,145.5" fill="#000" />
<rect x="230.3" y="129.5" width="41.4" height="17.3" rx="3" fill="#000"/>
<rect x="232.2" y="131.3" width="37.5" height="12.9" rx="1.4" fill="#fff"/>
<text transform="translate(249.64999999999998,141.9) scale(0.75,1)" x="1.5" y="0" text-anchor="middle" font-size="13.6" letter-spacing="3.0" fill="#000" stroke="#000" stroke-width="0.12" font-weight="normal">JP12</text>
<polygon points="230.5,172 234.8,172 241.5,181.5 246,182 246,190 240.8,190 240.8,186.5" fill="#000" />
<rect x="240.8" y="180.9" width="42.1" height="19" rx="3" fill="#000"/>
<rect x="243.3" y="183.6" width="37.3" height="13.9" rx="1.4" fill="#fff"/>
<text transform="translate(260.65000000000003,194.5) scale(0.75,1)" x="1.5" y="0" text-anchor="middle" font-size="13.6" letter-spacing="3.0" fill="#000" stroke="#000" stroke-width="0.12" font-weight="normal">JP11</text>
<polygon points="195,98.5 208,86 211.5,86 211.5,88 201.8,99.5 201.8,104" fill="#000" />
<rect x="162" y="97.5" width="39.8" height="14.7" rx="3" fill="#000"/>
<rect x="163.7" y="99.2" width="36.1" height="10.8" rx="1.4" fill="#fff"/>
<text transform="translate(180.45,108.39999999999999) scale(0.75,1)" x="1.5" y="0" text-anchor="middle" font-size="13.6" letter-spacing="3.0" fill="#000" stroke="#000" stroke-width="0.12" font-weight="normal">JP21</text>
<polygon points="196.8,99.4 199.6,96.6 199.6,99.4" fill="#fff" />
<polygon points="352,78.5 366,67 369.8,67 369.8,69.2 360,80 360,85" fill="#000" />
<rect x="318" y="76.9" width="42" height="19.1" rx="3" fill="#000"/>
<rect x="319.9" y="78.9" width="37.9" height="14.7" rx="1.4" fill="#fff"/>
<text transform="translate(337.54999999999995,90.6) scale(0.75,1)" x="1.5" y="0" text-anchor="middle" font-size="13.6" letter-spacing="3.0" fill="#000" stroke="#000" stroke-width="0.12" font-weight="normal">JP23</text>
<polygon points="354,79.2 357.6,76 357.6,79.2" fill="#fff" />
<polygon points="81,276 71.5,286.5 71.5,288 75.5,288 88,278.8" fill="#000" />
<rect x="80.5" y="262.5" width="31.5" height="16" rx="3" fill="#000"/>
<rect x="82.3" y="264.3" width="29.3" height="13.2" rx="1.4" fill="#fff"/>
<text transform="translate(95.65,274.1) scale(0.75,1)" x="1.5" y="0" text-anchor="middle" font-size="13.6" letter-spacing="3.0" fill="#000" stroke="#000" stroke-width="0.12" font-weight="normal">JP8</text>
<polygon points="82.5,278.2 80,281 83,279.2" fill="#fff" />
<polygon points="82,315 92.5,304.5 97,304.5 97,306.5 89.4,316 89.4,320" fill="#000" />
<rect x="55.7" y="314" width="33.7" height="16.2" rx="3" fill="#000"/>
<rect x="57.8" y="315.5" width="29.8" height="12.9" rx="1.4" fill="#fff"/>
<text transform="translate(71.4,325.3) scale(0.75,1)" x="1.5" y="0" text-anchor="middle" font-size="13.6" letter-spacing="3.0" fill="#000" stroke="#000" stroke-width="0.12" font-weight="normal">JP7</text>
<polygon points="84,315.7 87.4,312.4 87.4,315.7" fill="#fff" />
<polygon points="175,461 177.3,466 177.6,481 180.8,481 181.8,466 184.5,461" fill="#000" />
<rect x="163.3" y="445.4" width="32.2" height="17.4" rx="3" fill="#000"/>
<rect x="165" y="447.1" width="28" height="13.2" rx="1.4" fill="#fff"/>
<text transform="translate(177.7,457.4) scale(0.75,1)" x="1.5" y="0" text-anchor="middle" font-size="13.6" letter-spacing="3.0" fill="#000" stroke="#000" stroke-width="0.12" font-weight="normal">JP4</text>
<polygon points="177.6,460.5 178.8,465 179.2,469 179.6,469 180.1,465 181.8,460.5" fill="#fff" />
<polygon points="154,483 166.5,493.5 169,493.5 169,490.5 160,479" fill="#000" />
<rect x="127.8" y="468.7" width="32.2" height="16.1" rx="3" fill="#000"/>
<rect x="130" y="470.4" width="28.8" height="12.7" rx="1.4" fill="#fff"/>
<text transform="translate(143.1,480.7) scale(0.75,1)" x="1.5" y="0" text-anchor="middle" font-size="13.6" letter-spacing="3.0" fill="#000" stroke="#000" stroke-width="0.12" font-weight="normal">JP3</text>
</svg>
</body></html>
